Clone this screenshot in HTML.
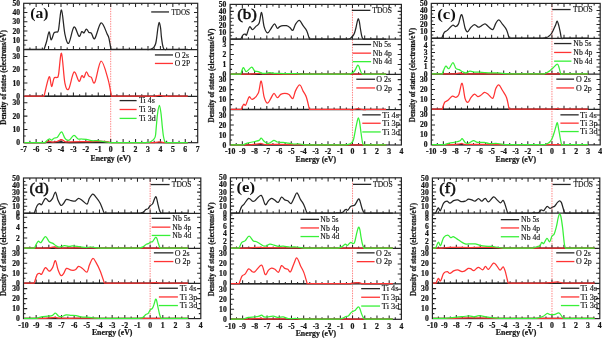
<!DOCTYPE html>
<html><head><meta charset="utf-8"><title>DOS</title><style>
html,body{margin:0;padding:0;background:#fff;width:602px;height:338px;overflow:hidden}
svg{display:block;will-change:transform}
.tl{font-family:"Liberation Serif",serif;font-weight:bold;fill:#151515;stroke:#151515;stroke-width:0.22px}
.lg{font-family:"Liberation Serif",serif;fill:#151515;stroke:#151515;stroke-width:0.15px}
.pn{font-family:"Liberation Serif",serif;fill:#111;stroke:#111;stroke-width:0.55px}
.pb{font-family:"Liberation Serif",serif;font-weight:bold;fill:#111}
</style></head><body>
<svg width="602" height="338" viewBox="0 0 602 338">
<rect width="602" height="338" fill="#fff"/>
<line x1="110.70" y1="3.30" x2="110.70" y2="142.70" stroke="#ff8080" stroke-width="1.0" stroke-dasharray="1.4,1.1"/>
<rect x="23.70" y="3.30" width="174.00" height="139.40" fill="none" stroke="#262626" stroke-width="1.20"/>
<line x1="23.70" y1="49.60" x2="197.70" y2="49.60" stroke="#262626" stroke-width="1.20"/>
<line x1="23.70" y1="96.30" x2="197.70" y2="96.30" stroke="#262626" stroke-width="1.20"/>
<path d="M29.91,3.30v2.00M29.91,49.60v-2.00M29.91,96.30v-2.00M29.91,142.70v-2.00M36.13,3.30v3.70M36.13,49.60v-3.70M36.13,96.30v-3.70M36.13,142.70v-3.70M42.34,3.30v2.00M42.34,49.60v-2.00M42.34,96.30v-2.00M42.34,142.70v-2.00M48.56,3.30v3.70M48.56,49.60v-3.70M48.56,96.30v-3.70M48.56,142.70v-3.70M54.77,3.30v2.00M54.77,49.60v-2.00M54.77,96.30v-2.00M54.77,142.70v-2.00M60.99,3.30v3.70M60.99,49.60v-3.70M60.99,96.30v-3.70M60.99,142.70v-3.70M67.20,3.30v2.00M67.20,49.60v-2.00M67.20,96.30v-2.00M67.20,142.70v-2.00M73.41,3.30v3.70M73.41,49.60v-3.70M73.41,96.30v-3.70M73.41,142.70v-3.70M79.63,3.30v2.00M79.63,49.60v-2.00M79.63,96.30v-2.00M79.63,142.70v-2.00M85.84,3.30v3.70M85.84,49.60v-3.70M85.84,96.30v-3.70M85.84,142.70v-3.70M92.06,3.30v2.00M92.06,49.60v-2.00M92.06,96.30v-2.00M92.06,142.70v-2.00M98.27,3.30v3.70M98.27,49.60v-3.70M98.27,96.30v-3.70M98.27,142.70v-3.70M104.49,3.30v2.00M104.49,49.60v-2.00M104.49,96.30v-2.00M104.49,142.70v-2.00M110.70,3.30v3.70M110.70,49.60v-3.70M110.70,96.30v-3.70M110.70,142.70v-3.70M116.91,3.30v2.00M116.91,49.60v-2.00M116.91,96.30v-2.00M116.91,142.70v-2.00M123.13,3.30v3.70M123.13,49.60v-3.70M123.13,96.30v-3.70M123.13,142.70v-3.70M129.34,3.30v2.00M129.34,49.60v-2.00M129.34,96.30v-2.00M129.34,142.70v-2.00M135.56,3.30v3.70M135.56,49.60v-3.70M135.56,96.30v-3.70M135.56,142.70v-3.70M141.77,3.30v2.00M141.77,49.60v-2.00M141.77,96.30v-2.00M141.77,142.70v-2.00M147.99,3.30v3.70M147.99,49.60v-3.70M147.99,96.30v-3.70M147.99,142.70v-3.70M154.20,3.30v2.00M154.20,49.60v-2.00M154.20,96.30v-2.00M154.20,142.70v-2.00M160.41,3.30v3.70M160.41,49.60v-3.70M160.41,96.30v-3.70M160.41,142.70v-3.70M166.63,3.30v2.00M166.63,49.60v-2.00M166.63,96.30v-2.00M166.63,142.70v-2.00M172.84,3.30v3.70M172.84,49.60v-3.70M172.84,96.30v-3.70M172.84,142.70v-3.70M179.06,3.30v2.00M179.06,49.60v-2.00M179.06,96.30v-2.00M179.06,142.70v-2.00M185.27,3.30v3.70M185.27,49.60v-3.70M185.27,96.30v-3.70M185.27,142.70v-3.70M191.49,3.30v2.00M191.49,49.60v-2.00M191.49,96.30v-2.00M191.49,142.70v-2.00M23.70,44.97h2.00M197.70,44.97h-2.00M23.70,40.34h3.70M197.70,40.34h-3.70M23.70,35.71h2.00M197.70,35.71h-2.00M23.70,31.08h3.70M197.70,31.08h-3.70M23.70,26.45h2.00M197.70,26.45h-2.00M23.70,21.82h3.70M197.70,21.82h-3.70M23.70,17.19h2.00M197.70,17.19h-2.00M23.70,12.56h3.70M197.70,12.56h-3.70M23.70,7.93h2.00M197.70,7.93h-2.00M23.70,89.65h2.00M197.70,89.65h-2.00M23.70,83.00h3.70M197.70,83.00h-3.70M23.70,76.35h2.00M197.70,76.35h-2.00M23.70,69.70h3.70M197.70,69.70h-3.70M23.70,63.05h2.00M197.70,63.05h-2.00M23.70,56.40h3.70M197.70,56.40h-3.70M23.70,136.05h2.00M197.70,136.05h-2.00M23.70,129.40h3.70M197.70,129.40h-3.70M23.70,122.75h2.00M197.70,122.75h-2.00M23.70,116.10h3.70M197.70,116.10h-3.70M23.70,109.45h2.00M197.70,109.45h-2.00M23.70,102.80h3.70M197.70,102.80h-3.70" stroke="#262626" stroke-width="1.05" fill="none"/>
<path d="M24.30,49.40L44.10,49.40C44.52,48.08 45.77,44.42 46.60,41.50C47.43,38.58 48.33,32.17 49.10,31.90C49.87,31.63 50.38,39.73 51.20,39.90C52.02,40.07 53.12,34.23 54.00,32.90C54.88,31.57 55.75,32.40 56.50,31.90C57.25,31.40 57.67,33.55 58.50,29.90C59.33,26.25 60.43,9.30 61.50,10.00C62.57,10.70 63.70,28.57 64.90,34.10C66.10,39.63 67.18,44.37 68.70,43.20C70.22,42.03 72.28,28.27 74.00,27.10C75.72,25.93 77.70,35.45 79.00,36.20C80.30,36.95 80.97,32.15 81.80,31.60C82.63,31.05 83.23,33.32 84.00,32.90C84.77,32.48 85.58,29.18 86.40,29.10C87.22,29.02 88.07,31.72 88.90,32.40C89.73,33.08 90.42,32.18 91.40,33.20C92.38,34.22 93.18,40.22 94.80,38.50C96.42,36.78 99.03,23.63 101.10,22.90C103.17,22.17 105.90,31.55 107.20,34.10C108.50,36.65 108.27,35.65 108.90,38.20C109.53,40.75 110.65,47.53 111.00,49.40L146.00,49.40C146.47,49.42 147.97,49.55 148.80,49.50C149.63,49.45 150.17,49.47 151.00,49.10C151.83,48.73 153.02,48.23 153.80,47.30C154.58,46.37 155.20,45.23 155.70,43.50C156.20,41.77 156.43,39.47 156.80,36.90C157.17,34.33 157.50,30.52 157.90,28.10C158.30,25.68 158.75,22.40 159.20,22.40C159.65,22.40 160.23,25.68 160.60,28.10C160.97,30.52 161.08,34.15 161.40,36.90C161.72,39.65 162.13,42.68 162.50,44.60C162.87,46.52 163.23,47.58 163.60,48.40C163.97,49.22 164.13,49.33 164.70,49.50C165.27,49.67 166.62,49.42 167.00,49.40L187.76,49.40" fill="none" stroke="#262626" stroke-width="1.25" stroke-linejoin="round"/>
<path d="M24.30,96.10L187.76,96.10" fill="none" stroke="#262626" stroke-width="1.25" stroke-linejoin="round"/>
<path d="M24.30,96.10L44.10,96.10C44.93,92.90 47.85,78.50 49.10,76.90C50.35,75.30 50.78,86.28 51.60,86.50C52.42,86.72 53.18,79.72 54.00,78.20C54.82,76.68 55.75,77.95 56.50,77.40C57.25,76.85 57.67,78.92 58.50,74.90C59.33,70.88 60.43,51.92 61.50,53.30C62.57,54.68 63.70,77.25 64.90,83.20C66.10,89.15 67.18,90.85 68.70,89.00C70.22,87.15 72.28,73.40 74.00,72.10C75.72,70.80 77.70,80.60 79.00,81.20C80.30,81.80 80.97,76.33 81.80,75.70C82.63,75.07 83.23,78.03 84.00,77.40C84.77,76.77 85.58,72.10 86.40,71.90C87.22,71.70 88.07,75.28 88.90,76.20C89.73,77.12 90.42,76.37 91.40,77.40C92.38,78.43 93.18,85.12 94.80,82.40C96.42,79.68 98.90,61.65 101.10,61.10C103.30,60.55 106.28,73.27 108.00,79.10C109.72,84.93 110.83,93.27 111.40,96.10L150.00,96.10C150.07,96.13 150.27,96.27 150.40,96.30C150.53,96.33 150.67,96.30 150.80,96.30C150.93,96.30 151.07,96.30 151.20,96.30C151.33,96.30 151.47,96.30 151.60,96.30C151.73,96.30 151.87,96.30 152.00,96.29C152.13,96.29 152.27,96.29 152.40,96.29C152.53,96.29 152.67,96.29 152.80,96.28C152.93,96.28 153.07,96.28 153.20,96.27C153.33,96.27 153.47,96.26 153.60,96.26C153.73,96.25 153.87,96.25 154.00,96.24C154.13,96.23 154.27,96.22 154.40,96.21C154.53,96.20 154.67,96.18 154.80,96.17C154.93,96.15 155.07,96.14 155.20,96.12C155.33,96.10 155.47,96.08 155.60,96.05C155.73,96.03 155.87,96.01 156.00,95.98C156.13,95.95 156.27,95.92 156.40,95.89C156.53,95.86 156.67,95.83 156.80,95.80C156.93,95.77 157.07,95.74 157.20,95.71C157.33,95.68 157.47,95.64 157.60,95.62C157.73,95.59 157.87,95.56 158.00,95.53C158.13,95.51 158.27,95.48 158.40,95.47C158.53,95.45 158.67,95.43 158.80,95.42C158.93,95.41 159.07,95.40 159.20,95.40C159.33,95.40 159.47,95.40 159.60,95.41C159.73,95.41 159.87,95.43 160.00,95.44C160.13,95.46 160.27,95.48 160.40,95.50C160.53,95.52 160.67,95.55 160.80,95.57C160.93,95.60 161.07,95.63 161.20,95.66C161.33,95.69 161.47,95.72 161.60,95.75C161.73,95.79 161.87,95.82 162.00,95.85C162.13,95.88 162.27,95.91 162.40,95.94C162.53,95.97 162.67,95.99 162.80,96.02C162.93,96.04 163.07,96.07 163.20,96.09C163.33,96.11 163.47,96.13 163.60,96.14C163.73,96.16 163.87,96.18 164.00,96.19C164.13,96.20 164.27,96.21 164.40,96.22C164.53,96.23 164.67,96.24 164.80,96.25C164.93,96.26 165.07,96.26 165.20,96.27C165.33,96.27 165.47,96.28 165.60,96.28C165.73,96.28 165.87,96.28 166.00,96.29C166.13,96.29 166.27,96.29 166.40,96.29C166.53,96.29 166.67,96.29 166.80,96.30C166.93,96.30 167.07,96.30 167.20,96.30C167.33,96.30 167.47,96.33 167.60,96.30C167.73,96.27 167.93,96.13 168.00,96.10L187.76,96.10" fill="none" stroke="#ff3434" stroke-width="1.25" stroke-linejoin="round"/>
<path d="M24.30,142.50L46.00,142.50C46.50,142.38 48.00,141.82 49.00,141.80C50.00,141.78 49.92,142.43 52.00,142.40C54.08,142.37 59.17,141.58 61.50,141.60C63.83,141.62 59.58,142.38 66.00,142.50C72.42,142.62 92.67,142.30 100.00,142.30C107.33,142.30 108.33,142.47 110.00,142.50L187.76,142.50" fill="none" stroke="#262626" stroke-width="1.25" stroke-linejoin="round"/>
<path d="M24.30,142.50L45.00,142.50C45.68,142.28 47.93,141.28 49.10,141.20C50.27,141.12 50.68,141.95 52.00,142.00C53.32,142.05 55.42,141.90 57.00,141.50C58.58,141.10 60.18,139.58 61.50,139.60C62.82,139.62 63.48,141.23 64.90,141.60C66.32,141.97 65.82,141.80 70.00,141.80C74.18,141.80 84.33,141.67 90.00,141.60C95.67,141.53 100.50,141.25 104.00,141.40C107.50,141.55 109.83,142.32 111.00,142.50L150.00,142.50C150.07,142.53 150.27,142.67 150.40,142.70C150.53,142.73 150.67,142.70 150.80,142.70C150.93,142.70 151.07,142.70 151.20,142.70C151.33,142.70 151.47,142.69 151.60,142.69C151.73,142.69 151.87,142.69 152.00,142.69C152.13,142.69 152.27,142.68 152.40,142.68C152.53,142.68 152.67,142.68 152.80,142.67C152.93,142.67 153.07,142.66 153.20,142.66C153.33,142.65 153.47,142.65 153.60,142.64C153.73,142.63 153.87,142.63 154.00,142.62C154.13,142.61 154.27,142.60 154.40,142.58C154.53,142.57 154.67,142.56 154.80,142.54C154.93,142.53 155.07,142.51 155.20,142.49C155.33,142.47 155.47,142.45 155.60,142.43C155.73,142.41 155.87,142.39 156.00,142.37C156.13,142.34 156.27,142.32 156.40,142.29C156.53,142.27 156.67,142.24 156.80,142.21C156.93,142.19 157.07,142.16 157.20,142.14C157.33,142.11 157.47,142.09 157.60,142.07C157.73,142.04 157.87,142.02 158.00,142.00C158.13,141.98 158.27,141.96 158.40,141.95C158.53,141.94 158.67,141.92 158.80,141.92C158.93,141.91 159.07,141.90 159.20,141.90C159.33,141.90 159.47,141.90 159.60,141.91C159.73,141.91 159.87,141.92 160.00,141.93C160.13,141.94 160.27,141.96 160.40,141.97C160.53,141.99 160.67,142.01 160.80,142.03C160.93,142.05 161.07,142.08 161.20,142.10C161.33,142.12 161.47,142.15 161.60,142.18C161.73,142.20 161.87,142.23 162.00,142.25C162.13,142.28 162.27,142.30 162.40,142.33C162.53,142.35 162.67,142.38 162.80,142.40C162.93,142.42 163.07,142.44 163.20,142.46C163.33,142.48 163.47,142.50 163.60,142.52C163.73,142.53 163.87,142.55 164.00,142.56C164.13,142.58 164.27,142.59 164.40,142.60C164.53,142.61 164.67,142.62 164.80,142.63C164.93,142.64 165.07,142.64 165.20,142.65C165.33,142.66 165.47,142.66 165.60,142.67C165.73,142.67 165.87,142.67 166.00,142.68C166.13,142.68 166.27,142.68 166.40,142.69C166.53,142.69 166.67,142.69 166.80,142.69C166.93,142.69 167.07,142.69 167.20,142.69C167.33,142.70 167.47,142.73 167.60,142.70C167.73,142.66 167.93,142.53 168.00,142.50L187.76,142.50" fill="none" stroke="#ff3434" stroke-width="1.25" stroke-linejoin="round"/>
<path d="M24.30,142.50L44.90,142.50C45.60,141.92 47.98,139.38 49.10,139.00C50.22,138.62 50.78,140.33 51.60,140.20C52.42,140.07 53.03,138.68 54.00,138.20C54.97,137.72 56.15,138.35 57.40,137.30C58.65,136.25 60.25,131.75 61.50,131.90C62.75,132.05 63.93,136.82 64.90,138.20C65.87,139.58 66.48,139.93 67.30,140.20C68.12,140.47 68.68,140.62 69.80,139.80C70.92,138.98 72.62,135.43 74.00,135.30C75.38,135.17 76.85,138.38 78.10,139.00C79.35,139.62 80.12,138.95 81.50,139.00C82.88,139.05 84.75,139.02 86.40,139.30C88.05,139.58 89.47,140.47 91.40,140.70C93.33,140.93 96.07,140.57 98.00,140.70C99.93,140.83 101.05,141.20 103.00,141.50C104.95,141.80 108.58,142.33 109.70,142.50L146.00,142.50C146.50,142.47 148.17,142.47 149.00,142.30C149.83,142.13 150.22,142.00 151.00,141.50C151.78,141.00 152.97,140.22 153.70,139.30C154.43,138.38 154.97,138.12 155.40,136.00C155.83,133.88 155.93,130.38 156.30,126.60C156.67,122.82 157.08,116.85 157.60,113.30C158.12,109.75 158.83,105.30 159.40,105.30C159.97,105.30 160.52,109.75 161.00,113.30C161.48,116.85 161.90,122.82 162.30,126.60C162.70,130.38 163.00,133.55 163.40,136.00C163.80,138.45 164.33,140.23 164.70,141.30C165.07,142.37 165.22,142.20 165.60,142.40C165.98,142.60 166.77,142.48 167.00,142.50L187.76,142.50" fill="none" stroke="#38f038" stroke-width="1.25" stroke-linejoin="round"/>
<text class="tl" font-size="7.60" text-anchor="end" transform="translate(20.00,52.15) scale(1.000,1.050)">0</text>
<text class="tl" font-size="7.60" text-anchor="end" transform="translate(20.00,42.89) scale(1.000,1.050)">10</text>
<text class="tl" font-size="7.60" text-anchor="end" transform="translate(20.00,33.63) scale(1.000,1.050)">20</text>
<text class="tl" font-size="7.60" text-anchor="end" transform="translate(20.00,24.37) scale(1.000,1.050)">30</text>
<text class="tl" font-size="7.60" text-anchor="end" transform="translate(20.00,15.11) scale(1.000,1.050)">40</text>
<text class="tl" font-size="7.60" text-anchor="end" transform="translate(20.00,5.85) scale(1.000,1.050)">50</text>
<text class="tl" font-size="7.60" text-anchor="end" transform="translate(20.00,98.85) scale(1.000,1.050)">0</text>
<text class="tl" font-size="7.60" text-anchor="end" transform="translate(20.00,85.55) scale(1.000,1.050)">10</text>
<text class="tl" font-size="7.60" text-anchor="end" transform="translate(20.00,72.25) scale(1.000,1.050)">20</text>
<text class="tl" font-size="7.60" text-anchor="end" transform="translate(20.00,58.95) scale(1.000,1.050)">30</text>
<text class="tl" font-size="7.60" text-anchor="end" transform="translate(20.00,145.25) scale(1.000,1.050)">0</text>
<text class="tl" font-size="7.60" text-anchor="end" transform="translate(20.00,131.95) scale(1.000,1.050)">10</text>
<text class="tl" font-size="7.60" text-anchor="end" transform="translate(20.00,118.65) scale(1.000,1.050)">20</text>
<text class="tl" font-size="7.60" text-anchor="end" transform="translate(20.00,105.35) scale(1.000,1.050)">30</text>
<text class="tl" font-size="7.80" text-anchor="middle" transform="translate(23.70,152.02) scale(1.000,0.930)">-7</text>
<text class="tl" font-size="7.80" text-anchor="middle" transform="translate(36.13,152.02) scale(1.000,0.930)">-6</text>
<text class="tl" font-size="7.80" text-anchor="middle" transform="translate(48.56,152.02) scale(1.000,0.930)">-5</text>
<text class="tl" font-size="7.80" text-anchor="middle" transform="translate(60.99,152.02) scale(1.000,0.930)">-4</text>
<text class="tl" font-size="7.80" text-anchor="middle" transform="translate(73.41,152.02) scale(1.000,0.930)">-3</text>
<text class="tl" font-size="7.80" text-anchor="middle" transform="translate(85.84,152.02) scale(1.000,0.930)">-2</text>
<text class="tl" font-size="7.80" text-anchor="middle" transform="translate(98.27,152.02) scale(1.000,0.930)">-1</text>
<text class="tl" font-size="7.80" text-anchor="middle" transform="translate(110.70,152.02) scale(1.000,0.930)">0</text>
<text class="tl" font-size="7.80" text-anchor="middle" transform="translate(123.13,152.02) scale(1.000,0.930)">1</text>
<text class="tl" font-size="7.80" text-anchor="middle" transform="translate(135.56,152.02) scale(1.000,0.930)">2</text>
<text class="tl" font-size="7.80" text-anchor="middle" transform="translate(147.99,152.02) scale(1.000,0.930)">3</text>
<text class="tl" font-size="7.80" text-anchor="middle" transform="translate(160.41,152.02) scale(1.000,0.930)">4</text>
<text class="tl" font-size="7.80" text-anchor="middle" transform="translate(172.84,152.02) scale(1.000,0.930)">5</text>
<text class="tl" font-size="7.80" text-anchor="middle" transform="translate(185.27,152.02) scale(1.000,0.930)">6</text>
<text class="tl" font-size="7.80" text-anchor="middle" transform="translate(197.70,152.02) scale(1.000,0.930)">7</text>
<text x="110.70" y="161.30" class="tl" font-size="7.80" text-anchor="middle">Energy (eV)</text>
<text class="tl" font-size="7.25" text-anchor="middle" transform="translate(6.20,77.40) rotate(-90) scale(1,1.180)">Density of states (electrons/eV)</text>
<text class="pb" font-size="15.20" transform="translate(30.27,18.40) scale(1.030,1.000)">(a)</text>
<line x1="151.20" y1="11.95" x2="169.00" y2="11.95" stroke="#262626" stroke-width="1.3"/>
<text class="lg" font-size="7.50" transform="translate(171.50,14.75) scale(0.950,1.000)">TDOS</text>
<line x1="154.90" y1="54.95" x2="173.00" y2="54.95" stroke="#262626" stroke-width="1.3"/>
<text class="lg" font-size="7.50" transform="translate(174.70,57.75) scale(1.016,1.000)">O 2s</text>
<line x1="154.90" y1="63.45" x2="173.00" y2="63.45" stroke="#ff3434" stroke-width="1.3"/>
<text class="lg" font-size="7.50" transform="translate(174.70,66.25) scale(1.016,1.000)">O 2P</text>
<line x1="119.60" y1="100.60" x2="136.60" y2="100.60" stroke="#262626" stroke-width="1.3"/>
<text class="lg" font-size="7.50" transform="translate(139.00,103.40) scale(1.064,1.000)">Ti 4s</text>
<line x1="119.60" y1="109.50" x2="136.60" y2="109.50" stroke="#ff3434" stroke-width="1.3"/>
<text class="lg" font-size="7.50" transform="translate(139.00,112.30) scale(1.064,1.000)">Ti 3p</text>
<line x1="119.60" y1="118.40" x2="136.60" y2="118.40" stroke="#38f038" stroke-width="1.3"/>
<text class="lg" font-size="7.50" transform="translate(139.00,121.20) scale(1.064,1.000)">Ti 3d</text>
<line x1="352.46" y1="4.40" x2="352.46" y2="145.00" stroke="#ff8080" stroke-width="1.0" stroke-dasharray="1.4,1.1"/>
<rect x="230.10" y="4.40" width="171.30" height="140.60" fill="none" stroke="#262626" stroke-width="1.20"/>
<line x1="230.10" y1="39.20" x2="401.40" y2="39.20" stroke="#262626" stroke-width="1.20"/>
<line x1="230.10" y1="74.30" x2="401.40" y2="74.30" stroke="#262626" stroke-width="1.20"/>
<line x1="230.10" y1="109.60" x2="401.40" y2="109.60" stroke="#262626" stroke-width="1.20"/>
<path d="M236.22,4.40v2.00M236.22,39.20v-2.00M236.22,74.30v-2.00M236.22,109.60v-2.00M236.22,145.00v-2.00M242.34,4.40v3.70M242.34,39.20v-3.70M242.34,74.30v-3.70M242.34,109.60v-3.70M242.34,145.00v-3.70M248.45,4.40v2.00M248.45,39.20v-2.00M248.45,74.30v-2.00M248.45,109.60v-2.00M248.45,145.00v-2.00M254.57,4.40v3.70M254.57,39.20v-3.70M254.57,74.30v-3.70M254.57,109.60v-3.70M254.57,145.00v-3.70M260.69,4.40v2.00M260.69,39.20v-2.00M260.69,74.30v-2.00M260.69,109.60v-2.00M260.69,145.00v-2.00M266.81,4.40v3.70M266.81,39.20v-3.70M266.81,74.30v-3.70M266.81,109.60v-3.70M266.81,145.00v-3.70M272.93,4.40v2.00M272.93,39.20v-2.00M272.93,74.30v-2.00M272.93,109.60v-2.00M272.93,145.00v-2.00M279.04,4.40v3.70M279.04,39.20v-3.70M279.04,74.30v-3.70M279.04,109.60v-3.70M279.04,145.00v-3.70M285.16,4.40v2.00M285.16,39.20v-2.00M285.16,74.30v-2.00M285.16,109.60v-2.00M285.16,145.00v-2.00M291.28,4.40v3.70M291.28,39.20v-3.70M291.28,74.30v-3.70M291.28,109.60v-3.70M291.28,145.00v-3.70M297.40,4.40v2.00M297.40,39.20v-2.00M297.40,74.30v-2.00M297.40,109.60v-2.00M297.40,145.00v-2.00M303.51,4.40v3.70M303.51,39.20v-3.70M303.51,74.30v-3.70M303.51,109.60v-3.70M303.51,145.00v-3.70M309.63,4.40v2.00M309.63,39.20v-2.00M309.63,74.30v-2.00M309.63,109.60v-2.00M309.63,145.00v-2.00M315.75,4.40v3.70M315.75,39.20v-3.70M315.75,74.30v-3.70M315.75,109.60v-3.70M315.75,145.00v-3.70M321.87,4.40v2.00M321.87,39.20v-2.00M321.87,74.30v-2.00M321.87,109.60v-2.00M321.87,145.00v-2.00M327.99,4.40v3.70M327.99,39.20v-3.70M327.99,74.30v-3.70M327.99,109.60v-3.70M327.99,145.00v-3.70M334.10,4.40v2.00M334.10,39.20v-2.00M334.10,74.30v-2.00M334.10,109.60v-2.00M334.10,145.00v-2.00M340.22,4.40v3.70M340.22,39.20v-3.70M340.22,74.30v-3.70M340.22,109.60v-3.70M340.22,145.00v-3.70M346.34,4.40v2.00M346.34,39.20v-2.00M346.34,74.30v-2.00M346.34,109.60v-2.00M346.34,145.00v-2.00M352.46,4.40v3.70M352.46,39.20v-3.70M352.46,74.30v-3.70M352.46,109.60v-3.70M352.46,145.00v-3.70M358.57,4.40v2.00M358.57,39.20v-2.00M358.57,74.30v-2.00M358.57,109.60v-2.00M358.57,145.00v-2.00M364.69,4.40v3.70M364.69,39.20v-3.70M364.69,74.30v-3.70M364.69,109.60v-3.70M364.69,145.00v-3.70M370.81,4.40v2.00M370.81,39.20v-2.00M370.81,74.30v-2.00M370.81,109.60v-2.00M370.81,145.00v-2.00M376.93,4.40v3.70M376.93,39.20v-3.70M376.93,74.30v-3.70M376.93,109.60v-3.70M376.93,145.00v-3.70M383.05,4.40v2.00M383.05,39.20v-2.00M383.05,74.30v-2.00M383.05,109.60v-2.00M383.05,145.00v-2.00M389.16,4.40v3.70M389.16,39.20v-3.70M389.16,74.30v-3.70M389.16,109.60v-3.70M389.16,145.00v-3.70M395.28,4.40v2.00M395.28,39.20v-2.00M395.28,74.30v-2.00M395.28,109.60v-2.00M395.28,145.00v-2.00M230.10,35.72h2.00M401.40,35.72h-2.00M230.10,32.24h3.70M401.40,32.24h-3.70M230.10,28.76h2.00M401.40,28.76h-2.00M230.10,25.28h3.70M401.40,25.28h-3.70M230.10,21.80h2.00M401.40,21.80h-2.00M230.10,18.32h3.70M401.40,18.32h-3.70M230.10,14.84h2.00M401.40,14.84h-2.00M230.10,11.36h3.70M401.40,11.36h-3.70M230.10,7.88h2.00M401.40,7.88h-2.00M230.10,69.35h2.00M401.40,69.35h-2.00M230.10,64.40h3.70M401.40,64.40h-3.70M230.10,59.45h2.00M401.40,59.45h-2.00M230.10,54.50h3.70M401.40,54.50h-3.70M230.10,49.55h2.00M401.40,49.55h-2.00M230.10,44.60h3.70M401.40,44.60h-3.70M230.10,104.60h2.00M401.40,104.60h-2.00M230.10,99.60h3.70M401.40,99.60h-3.70M230.10,94.60h2.00M401.40,94.60h-2.00M230.10,89.60h3.70M401.40,89.60h-3.70M230.10,84.60h2.00M401.40,84.60h-2.00M230.10,79.60h3.70M401.40,79.60h-3.70M230.10,140.00h2.00M401.40,140.00h-2.00M230.10,135.00h3.70M401.40,135.00h-3.70M230.10,130.00h2.00M401.40,130.00h-2.00M230.10,125.00h3.70M401.40,125.00h-3.70M230.10,120.00h2.00M401.40,120.00h-2.00M230.10,115.00h3.70M401.40,115.00h-3.70" stroke="#262626" stroke-width="1.05" fill="none"/>
<path d="M230.70,39.00L240.80,39.00C241.22,38.27 242.55,35.42 243.30,34.60C244.05,33.78 244.75,34.05 245.30,34.10C245.85,34.15 245.88,36.10 246.60,34.90C247.32,33.70 248.63,27.78 249.60,26.90C250.57,26.02 251.38,29.65 252.40,29.60C253.42,29.55 254.58,27.65 255.70,26.60C256.82,25.55 258.12,25.65 259.10,23.30C260.08,20.95 260.77,11.95 261.60,12.50C262.43,13.05 263.13,23.20 264.10,26.60C265.07,30.00 266.30,32.48 267.40,32.90C268.50,33.32 269.52,30.62 270.70,29.10C271.88,27.58 273.40,23.95 274.50,23.80C275.60,23.65 276.42,27.73 277.30,28.20C278.18,28.67 278.82,27.02 279.80,26.60C280.78,26.18 282.08,25.85 283.20,25.70C284.32,25.55 285.40,25.42 286.50,25.70C287.60,25.98 288.75,26.62 289.80,27.40C290.85,28.18 291.83,30.95 292.80,30.40C293.77,29.85 294.50,25.77 295.60,24.10C296.70,22.43 298.15,20.13 299.40,20.40C300.65,20.67 301.88,23.98 303.10,25.70C304.32,27.42 305.65,28.48 306.70,30.70C307.75,32.92 308.95,37.62 309.40,39.00L345.00,39.00C345.55,39.00 347.38,39.14 348.30,39.00C349.22,38.86 349.75,38.68 350.50,38.18C351.25,37.68 352.13,36.88 352.80,36.00C353.47,35.12 353.98,34.24 354.50,32.91C355.02,31.58 355.45,29.86 355.90,28.01C356.35,26.16 356.80,23.35 357.20,21.80C357.60,20.25 357.93,18.70 358.30,18.70C358.67,18.70 359.07,20.25 359.40,21.80C359.73,23.35 360.00,26.09 360.30,28.01C360.60,29.93 360.90,31.75 361.20,33.30C361.50,34.85 361.77,36.34 362.10,37.29C362.43,38.24 362.72,38.72 363.20,39.00C363.68,39.28 364.70,39.00 365.00,39.00L386.11,39.00" fill="none" stroke="#262626" stroke-width="1.25" stroke-linejoin="round"/>
<path d="M230.70,74.10L245.00,74.10C246.67,74.05 252.17,73.82 255.00,73.80C257.83,73.78 254.50,73.98 262.00,74.00C269.50,74.02 292.83,73.88 300.00,73.90C307.17,73.92 304.17,74.07 305.00,74.10L386.11,74.10" fill="none" stroke="#262626" stroke-width="1.25" stroke-linejoin="round"/>
<path d="M230.70,74.10L250.00,74.10C251.33,74.00 256.00,73.58 258.00,73.50C260.00,73.42 260.67,73.52 262.00,73.60C263.33,73.68 259.67,73.93 266.00,74.00C272.33,74.07 293.50,73.98 300.00,74.00C306.50,74.02 304.17,74.08 305.00,74.10L386.11,74.10" fill="none" stroke="#ff3434" stroke-width="1.25" stroke-linejoin="round"/>
<path d="M230.70,74.10L240.80,74.10C241.22,73.02 242.38,68.00 243.30,67.60C244.22,67.20 244.92,71.78 246.30,71.70C247.68,71.62 250.22,67.23 251.60,67.10C252.98,66.97 253.50,70.13 254.60,70.90C255.70,71.67 256.90,71.28 258.20,71.70C259.50,72.12 261.02,73.15 262.40,73.40C263.78,73.65 265.25,73.33 266.50,73.20C267.75,73.07 268.78,72.57 269.90,72.60C271.02,72.63 271.55,73.27 273.20,73.40C274.85,73.53 277.32,73.35 279.80,73.40C282.28,73.45 285.33,73.65 288.10,73.70C290.87,73.75 293.90,73.63 296.40,73.70C298.90,73.77 301.98,74.03 303.10,74.10L344.60,74.10C345.15,74.12 346.98,74.25 347.90,74.21C348.82,74.17 349.35,74.06 350.10,73.84C350.85,73.62 351.73,73.27 352.40,72.88C353.07,72.49 353.58,72.10 354.10,71.51C354.62,70.92 355.05,70.15 355.50,69.33C355.95,68.51 356.40,67.26 356.80,66.57C357.20,65.88 357.53,65.20 357.90,65.20C358.27,65.20 358.67,65.88 359.00,66.57C359.33,67.26 359.60,68.48 359.90,69.33C360.20,70.18 360.50,70.99 360.80,71.68C361.10,72.37 361.37,73.03 361.70,73.45C362.03,73.87 362.32,74.10 362.80,74.21C363.28,74.32 364.30,74.12 364.60,74.10L386.11,74.10" fill="none" stroke="#38f038" stroke-width="1.25" stroke-linejoin="round"/>
<path d="M230.70,109.40L386.11,109.40" fill="none" stroke="#262626" stroke-width="1.25" stroke-linejoin="round"/>
<path d="M230.70,109.40L241.30,109.40C241.68,108.57 242.85,105.15 243.60,104.40C244.35,103.65 244.88,106.15 245.80,104.90C246.72,103.65 248.00,97.82 249.10,96.90C250.20,95.98 250.88,100.00 252.40,99.40C253.92,98.80 256.73,96.35 258.20,93.30C259.67,90.25 260.22,80.50 261.20,81.10C262.18,81.70 263.07,93.22 264.10,96.90C265.13,100.58 266.30,102.92 267.40,103.20C268.50,103.48 269.60,100.25 270.70,98.60C271.80,96.95 272.90,93.45 274.00,93.30C275.10,93.15 276.18,97.52 277.30,97.70C278.42,97.88 279.45,95.13 280.70,94.40C281.95,93.67 283.42,93.30 284.80,93.30C286.18,93.30 287.67,93.52 289.00,94.40C290.33,95.28 291.70,99.23 292.80,98.60C293.90,97.97 294.43,92.87 295.60,90.60C296.77,88.33 298.55,84.92 299.80,85.00C301.05,85.08 302.00,89.07 303.10,91.10C304.20,93.13 305.35,94.15 306.40,97.20C307.45,100.25 308.90,107.37 309.40,109.40L350.00,109.40C350.07,109.43 350.27,109.57 350.40,109.60C350.53,109.63 350.67,109.60 350.80,109.60C350.93,109.59 351.07,109.59 351.20,109.59C351.33,109.59 351.47,109.59 351.60,109.59C351.73,109.58 351.87,109.58 352.00,109.58C352.13,109.57 352.27,109.57 352.40,109.56C352.53,109.56 352.67,109.55 352.80,109.54C352.93,109.54 353.07,109.53 353.20,109.52C353.33,109.51 353.47,109.49 353.60,109.48C353.73,109.46 353.87,109.45 354.00,109.43C354.13,109.41 354.27,109.39 354.40,109.36C354.53,109.34 354.67,109.31 354.80,109.29C354.93,109.26 355.07,109.23 355.20,109.20C355.33,109.17 355.47,109.14 355.60,109.10C355.73,109.07 355.87,109.04 356.00,109.00C356.13,108.97 356.27,108.94 356.40,108.91C356.53,108.88 356.67,108.85 356.80,108.82C356.93,108.80 357.07,108.78 357.20,108.76C357.33,108.74 357.47,108.72 357.60,108.71C357.73,108.71 357.87,108.70 358.00,108.70C358.13,108.70 358.27,108.71 358.40,108.71C358.53,108.72 358.67,108.74 358.80,108.76C358.93,108.78 359.07,108.80 359.20,108.82C359.33,108.85 359.47,108.88 359.60,108.91C359.73,108.94 359.87,108.97 360.00,109.00C360.13,109.04 360.27,109.07 360.40,109.10C360.53,109.14 360.67,109.17 360.80,109.20C360.93,109.23 361.07,109.26 361.20,109.29C361.33,109.31 361.47,109.34 361.60,109.36C361.73,109.39 361.87,109.41 362.00,109.43C362.13,109.45 362.27,109.46 362.40,109.48C362.53,109.49 362.67,109.51 362.80,109.52C362.93,109.53 363.07,109.54 363.20,109.54C363.33,109.55 363.47,109.56 363.60,109.56C363.73,109.57 363.87,109.57 364.00,109.58C364.13,109.58 364.27,109.58 364.40,109.59C364.53,109.59 364.67,109.59 364.80,109.59C364.93,109.59 365.07,109.59 365.20,109.60C365.33,109.60 365.47,109.63 365.60,109.60C365.73,109.57 365.93,109.43 366.00,109.40L386.11,109.40" fill="none" stroke="#ff3434" stroke-width="1.25" stroke-linejoin="round"/>
<path d="M230.70,144.80L386.11,144.80" fill="none" stroke="#262626" stroke-width="1.25" stroke-linejoin="round"/>
<path d="M230.70,144.80L250.00,144.80C251.00,144.70 254.13,144.42 256.00,144.20C257.87,143.98 259.70,143.45 261.20,143.50C262.70,143.55 261.87,144.37 265.00,144.50C268.13,144.63 274.17,144.28 280.00,144.30C285.83,144.32 295.83,144.52 300.00,144.60C304.17,144.68 304.17,144.77 305.00,144.80L386.11,144.80" fill="none" stroke="#ff3434" stroke-width="1.25" stroke-linejoin="round"/>
<path d="M230.70,144.80L243.30,144.80C244.13,144.48 246.37,143.45 248.30,142.90C250.23,142.35 253.10,141.92 254.90,141.50C256.70,141.08 258.05,140.95 259.10,140.40C260.15,139.85 260.37,138.07 261.20,138.20C262.03,138.33 263.07,140.32 264.10,141.20C265.13,142.08 266.30,143.30 267.40,143.50C268.50,143.70 269.60,142.92 270.70,142.40C271.80,141.88 272.90,140.47 274.00,140.40C275.10,140.33 275.77,141.67 277.30,142.00C278.83,142.33 281.40,142.20 283.20,142.40C285.00,142.60 286.45,142.93 288.10,143.20C289.75,143.47 291.15,143.87 293.10,144.00C295.05,144.13 297.85,143.87 299.80,144.00C301.75,144.13 303.97,144.67 304.80,144.80L343.00,144.80C343.75,144.78 346.17,144.97 347.50,144.70C348.83,144.43 350.03,143.93 351.00,143.20C351.97,142.47 352.53,142.70 353.30,140.30C354.07,137.90 354.97,131.88 355.60,128.80C356.23,125.72 356.65,123.63 357.10,121.80C357.55,119.97 357.88,117.80 358.30,117.80C358.72,117.80 359.18,119.58 359.60,121.80C360.02,124.02 360.32,127.63 360.80,131.10C361.28,134.57 362.02,140.30 362.50,142.60C362.98,144.90 363.28,144.53 363.70,144.90C364.12,145.27 364.78,144.82 365.00,144.80L386.11,144.80" fill="none" stroke="#38f038" stroke-width="1.25" stroke-linejoin="round"/>
<text class="tl" font-size="7.60" text-anchor="end" transform="translate(226.40,41.75) scale(1.000,1.050)">0</text>
<text class="tl" font-size="7.60" text-anchor="end" transform="translate(226.40,34.79) scale(1.000,1.050)">10</text>
<text class="tl" font-size="7.60" text-anchor="end" transform="translate(226.40,27.83) scale(1.000,1.050)">20</text>
<text class="tl" font-size="7.60" text-anchor="end" transform="translate(226.40,20.87) scale(1.000,1.050)">30</text>
<text class="tl" font-size="7.60" text-anchor="end" transform="translate(226.40,13.91) scale(1.000,1.050)">40</text>
<text class="tl" font-size="7.60" text-anchor="end" transform="translate(226.40,6.95) scale(1.000,1.050)">50</text>
<text class="tl" font-size="7.60" text-anchor="end" transform="translate(226.40,76.85) scale(1.000,1.050)">0</text>
<text class="tl" font-size="7.60" text-anchor="end" transform="translate(226.40,66.95) scale(1.000,1.050)">1</text>
<text class="tl" font-size="7.60" text-anchor="end" transform="translate(226.40,57.05) scale(1.000,1.050)">2</text>
<text class="tl" font-size="7.60" text-anchor="end" transform="translate(226.40,47.15) scale(1.000,1.050)">3</text>
<text class="tl" font-size="7.60" text-anchor="end" transform="translate(226.40,112.15) scale(1.000,1.050)">0</text>
<text class="tl" font-size="7.60" text-anchor="end" transform="translate(226.40,102.15) scale(1.000,1.050)">10</text>
<text class="tl" font-size="7.60" text-anchor="end" transform="translate(226.40,92.15) scale(1.000,1.050)">20</text>
<text class="tl" font-size="7.60" text-anchor="end" transform="translate(226.40,82.15) scale(1.000,1.050)">30</text>
<text class="tl" font-size="7.60" text-anchor="end" transform="translate(226.40,147.55) scale(1.000,1.050)">0</text>
<text class="tl" font-size="7.60" text-anchor="end" transform="translate(226.40,137.55) scale(1.000,1.050)">10</text>
<text class="tl" font-size="7.60" text-anchor="end" transform="translate(226.40,127.55) scale(1.000,1.050)">20</text>
<text class="tl" font-size="7.60" text-anchor="end" transform="translate(226.40,117.55) scale(1.000,1.050)">30</text>
<text class="tl" font-size="7.80" text-anchor="middle" transform="translate(230.10,154.32) scale(1.000,0.930)">-10</text>
<text class="tl" font-size="7.80" text-anchor="middle" transform="translate(242.34,154.32) scale(1.000,0.930)">-9</text>
<text class="tl" font-size="7.80" text-anchor="middle" transform="translate(254.57,154.32) scale(1.000,0.930)">-8</text>
<text class="tl" font-size="7.80" text-anchor="middle" transform="translate(266.81,154.32) scale(1.000,0.930)">-7</text>
<text class="tl" font-size="7.80" text-anchor="middle" transform="translate(279.04,154.32) scale(1.000,0.930)">-6</text>
<text class="tl" font-size="7.80" text-anchor="middle" transform="translate(291.28,154.32) scale(1.000,0.930)">-5</text>
<text class="tl" font-size="7.80" text-anchor="middle" transform="translate(303.51,154.32) scale(1.000,0.930)">-4</text>
<text class="tl" font-size="7.80" text-anchor="middle" transform="translate(315.75,154.32) scale(1.000,0.930)">-3</text>
<text class="tl" font-size="7.80" text-anchor="middle" transform="translate(327.99,154.32) scale(1.000,0.930)">-2</text>
<text class="tl" font-size="7.80" text-anchor="middle" transform="translate(340.22,154.32) scale(1.000,0.930)">-1</text>
<text class="tl" font-size="7.80" text-anchor="middle" transform="translate(352.46,154.32) scale(1.000,0.930)">0</text>
<text class="tl" font-size="7.80" text-anchor="middle" transform="translate(364.69,154.32) scale(1.000,0.930)">1</text>
<text class="tl" font-size="7.80" text-anchor="middle" transform="translate(376.93,154.32) scale(1.000,0.930)">2</text>
<text class="tl" font-size="7.80" text-anchor="middle" transform="translate(389.16,154.32) scale(1.000,0.930)">3</text>
<text class="tl" font-size="7.80" text-anchor="middle" transform="translate(401.40,154.32) scale(1.000,0.930)">4</text>
<text x="315.75" y="161.80" class="tl" font-size="7.80" text-anchor="middle">Energy (eV)</text>
<text class="tl" font-size="7.15" text-anchor="middle" transform="translate(214.20,75.55) rotate(-90) scale(1,1.180)">Density of states (electrons/eV)</text>
<text class="pn" font-size="15.20" transform="translate(237.23,18.70) scale(1.110,1.000)">(b)</text>
<line x1="351.80" y1="10.35" x2="370.40" y2="10.35" stroke="#262626" stroke-width="1.3"/>
<text x="372.30" y="13.15" class="lg" font-size="7.50">TDOS</text>
<line x1="352.60" y1="44.55" x2="371.10" y2="44.55" stroke="#262626" stroke-width="1.3"/>
<text class="lg" font-size="7.50" transform="translate(372.80,47.35) scale(1.030,1.000)">Nb 5s</text>
<line x1="352.60" y1="53.15" x2="371.10" y2="53.15" stroke="#ff3434" stroke-width="1.3"/>
<text class="lg" font-size="7.50" transform="translate(372.80,55.95) scale(1.030,1.000)">Nb 4p</text>
<line x1="352.60" y1="61.65" x2="371.10" y2="61.65" stroke="#38f038" stroke-width="1.3"/>
<text class="lg" font-size="7.50" transform="translate(372.80,64.45) scale(1.030,1.000)">Nb 4d</text>
<line x1="356.30" y1="79.25" x2="375.10" y2="79.25" stroke="#262626" stroke-width="1.3"/>
<text class="lg" font-size="7.50" transform="translate(376.30,82.05) scale(1.070,1.000)">O 2s</text>
<line x1="356.30" y1="87.95" x2="375.10" y2="87.95" stroke="#ff3434" stroke-width="1.3"/>
<text class="lg" font-size="7.50" transform="translate(376.30,90.75) scale(1.070,1.000)">O 2p</text>
<line x1="362.30" y1="114.85" x2="380.70" y2="114.85" stroke="#262626" stroke-width="1.3"/>
<text class="lg" font-size="7.50" transform="translate(382.30,117.65) scale(1.120,1.000)">Ti 4s</text>
<line x1="362.30" y1="123.25" x2="380.70" y2="123.25" stroke="#ff3434" stroke-width="1.3"/>
<text class="lg" font-size="7.50" transform="translate(382.30,126.05) scale(1.120,1.000)">Ti 3p</text>
<line x1="362.30" y1="131.95" x2="380.70" y2="131.95" stroke="#38f038" stroke-width="1.3"/>
<text class="lg" font-size="7.50" transform="translate(382.30,134.75) scale(1.120,1.000)">Ti 3d</text>
<line x1="551.94" y1="3.40" x2="551.94" y2="144.90" stroke="#ff8080" stroke-width="1.0" stroke-dasharray="1.4,1.1"/>
<rect x="431.30" y="3.40" width="168.90" height="141.50" fill="none" stroke="#262626" stroke-width="1.20"/>
<line x1="431.30" y1="38.40" x2="600.20" y2="38.40" stroke="#262626" stroke-width="1.20"/>
<line x1="431.30" y1="74.10" x2="600.20" y2="74.10" stroke="#262626" stroke-width="1.20"/>
<line x1="431.30" y1="109.40" x2="600.20" y2="109.40" stroke="#262626" stroke-width="1.20"/>
<path d="M437.33,3.40v2.00M437.33,38.40v-2.00M437.33,74.10v-2.00M437.33,109.40v-2.00M437.33,144.90v-2.00M443.36,3.40v3.70M443.36,38.40v-3.70M443.36,74.10v-3.70M443.36,109.40v-3.70M443.36,144.90v-3.70M449.40,3.40v2.00M449.40,38.40v-2.00M449.40,74.10v-2.00M449.40,109.40v-2.00M449.40,144.90v-2.00M455.43,3.40v3.70M455.43,38.40v-3.70M455.43,74.10v-3.70M455.43,109.40v-3.70M455.43,144.90v-3.70M461.46,3.40v2.00M461.46,38.40v-2.00M461.46,74.10v-2.00M461.46,109.40v-2.00M461.46,144.90v-2.00M467.49,3.40v3.70M467.49,38.40v-3.70M467.49,74.10v-3.70M467.49,109.40v-3.70M467.49,144.90v-3.70M473.53,3.40v2.00M473.53,38.40v-2.00M473.53,74.10v-2.00M473.53,109.40v-2.00M473.53,144.90v-2.00M479.56,3.40v3.70M479.56,38.40v-3.70M479.56,74.10v-3.70M479.56,109.40v-3.70M479.56,144.90v-3.70M485.59,3.40v2.00M485.59,38.40v-2.00M485.59,74.10v-2.00M485.59,109.40v-2.00M485.59,144.90v-2.00M491.62,3.40v3.70M491.62,38.40v-3.70M491.62,74.10v-3.70M491.62,109.40v-3.70M491.62,144.90v-3.70M497.65,3.40v2.00M497.65,38.40v-2.00M497.65,74.10v-2.00M497.65,109.40v-2.00M497.65,144.90v-2.00M503.69,3.40v3.70M503.69,38.40v-3.70M503.69,74.10v-3.70M503.69,109.40v-3.70M503.69,144.90v-3.70M509.72,3.40v2.00M509.72,38.40v-2.00M509.72,74.10v-2.00M509.72,109.40v-2.00M509.72,144.90v-2.00M515.75,3.40v3.70M515.75,38.40v-3.70M515.75,74.10v-3.70M515.75,109.40v-3.70M515.75,144.90v-3.70M521.78,3.40v2.00M521.78,38.40v-2.00M521.78,74.10v-2.00M521.78,109.40v-2.00M521.78,144.90v-2.00M527.81,3.40v3.70M527.81,38.40v-3.70M527.81,74.10v-3.70M527.81,109.40v-3.70M527.81,144.90v-3.70M533.85,3.40v2.00M533.85,38.40v-2.00M533.85,74.10v-2.00M533.85,109.40v-2.00M533.85,144.90v-2.00M539.88,3.40v3.70M539.88,38.40v-3.70M539.88,74.10v-3.70M539.88,109.40v-3.70M539.88,144.90v-3.70M545.91,3.40v2.00M545.91,38.40v-2.00M545.91,74.10v-2.00M545.91,109.40v-2.00M545.91,144.90v-2.00M551.94,3.40v3.70M551.94,38.40v-3.70M551.94,74.10v-3.70M551.94,109.40v-3.70M551.94,144.90v-3.70M557.98,3.40v2.00M557.98,38.40v-2.00M557.98,74.10v-2.00M557.98,109.40v-2.00M557.98,144.90v-2.00M564.01,3.40v3.70M564.01,38.40v-3.70M564.01,74.10v-3.70M564.01,109.40v-3.70M564.01,144.90v-3.70M570.04,3.40v2.00M570.04,38.40v-2.00M570.04,74.10v-2.00M570.04,109.40v-2.00M570.04,144.90v-2.00M576.07,3.40v3.70M576.07,38.40v-3.70M576.07,74.10v-3.70M576.07,109.40v-3.70M576.07,144.90v-3.70M582.10,3.40v2.00M582.10,38.40v-2.00M582.10,74.10v-2.00M582.10,109.40v-2.00M582.10,144.90v-2.00M588.14,3.40v3.70M588.14,38.40v-3.70M588.14,74.10v-3.70M588.14,109.40v-3.70M588.14,144.90v-3.70M594.17,3.40v2.00M594.17,38.40v-2.00M594.17,74.10v-2.00M594.17,109.40v-2.00M594.17,144.90v-2.00M431.30,34.90h2.00M600.20,34.90h-2.00M431.30,31.40h3.70M600.20,31.40h-3.70M431.30,27.90h2.00M600.20,27.90h-2.00M431.30,24.40h3.70M600.20,24.40h-3.70M431.30,20.90h2.00M600.20,20.90h-2.00M431.30,17.40h3.70M600.20,17.40h-3.70M431.30,13.90h2.00M600.20,13.90h-2.00M431.30,10.40h3.70M600.20,10.40h-3.70M431.30,6.90h2.00M600.20,6.90h-2.00M431.30,70.50h2.00M600.20,70.50h-2.00M431.30,66.90h3.70M600.20,66.90h-3.70M431.30,63.30h2.00M600.20,63.30h-2.00M431.30,59.70h3.70M600.20,59.70h-3.70M431.30,56.10h2.00M600.20,56.10h-2.00M431.30,52.50h3.70M600.20,52.50h-3.70M431.30,48.90h2.00M600.20,48.90h-2.00M431.30,45.30h3.70M600.20,45.30h-3.70M431.30,41.70h2.00M600.20,41.70h-2.00M431.30,104.40h2.00M600.20,104.40h-2.00M431.30,99.40h3.70M600.20,99.40h-3.70M431.30,94.40h2.00M600.20,94.40h-2.00M431.30,89.40h3.70M600.20,89.40h-3.70M431.30,84.40h2.00M600.20,84.40h-2.00M431.30,79.40h3.70M600.20,79.40h-3.70M431.30,139.90h2.00M600.20,139.90h-2.00M431.30,134.90h3.70M600.20,134.90h-3.70M431.30,129.90h2.00M600.20,129.90h-2.00M431.30,124.90h3.70M600.20,124.90h-3.70M431.30,119.90h2.00M600.20,119.90h-2.00M431.30,114.90h3.70M600.20,114.90h-3.70" stroke="#262626" stroke-width="1.05" fill="none"/>
<path d="M431.90,38.20L441.80,38.20C442.22,37.23 443.38,33.70 444.30,32.40C445.22,31.10 445.92,31.60 447.30,30.40C448.68,29.20 451.22,25.83 452.60,25.20C453.98,24.57 454.63,26.78 455.60,26.60C456.57,26.42 457.38,26.10 458.40,24.10C459.42,22.10 460.58,13.92 461.70,14.60C462.82,15.28 464.13,25.32 465.10,28.20C466.07,31.08 466.53,32.03 467.50,31.90C468.47,31.77 469.73,28.62 470.90,27.40C472.07,26.18 473.27,24.65 474.50,24.60C475.73,24.55 477.25,26.83 478.30,27.10C479.35,27.37 479.68,26.75 480.80,26.20C481.92,25.65 483.75,23.73 485.00,23.80C486.25,23.87 487.00,25.63 488.30,26.60C489.60,27.57 491.55,30.15 492.80,29.60C494.05,29.05 494.80,24.92 495.80,23.30C496.80,21.68 497.70,19.77 498.80,19.90C499.90,20.03 501.10,22.43 502.40,24.10C503.70,25.77 505.48,27.55 506.60,29.90C507.72,32.25 508.68,36.82 509.10,38.20L541.00,38.20C541.90,38.10 545.07,37.95 546.40,37.60C547.73,37.25 548.15,36.78 549.00,36.10C549.85,35.42 550.65,34.80 551.50,33.50C552.35,32.20 553.40,29.77 554.10,28.30C554.80,26.83 555.18,25.90 555.70,24.70C556.22,23.50 556.68,20.93 557.20,21.10C557.72,21.27 558.27,23.72 558.80,25.70C559.33,27.68 559.97,30.92 560.40,33.00C560.83,35.08 560.97,37.33 561.40,38.20C561.83,39.07 562.73,38.20 563.00,38.20L588.14,38.20" fill="none" stroke="#262626" stroke-width="1.25" stroke-linejoin="round"/>
<path d="M431.90,73.90L445.00,73.90C446.17,73.85 449.83,73.62 452.00,73.60C454.17,73.58 450.00,73.77 458.00,73.80C466.00,73.83 491.50,73.78 500.00,73.80C508.50,73.82 507.50,73.88 509.00,73.90L588.14,73.90" fill="none" stroke="#262626" stroke-width="1.25" stroke-linejoin="round"/>
<path d="M431.90,73.90L455.00,73.90C455.98,73.73 459.23,72.90 460.90,72.90C462.57,72.90 456.98,73.73 465.00,73.90C473.02,74.07 501.67,73.90 509.00,73.90L588.14,73.90" fill="none" stroke="#ff3434" stroke-width="1.25" stroke-linejoin="round"/>
<path d="M431.90,73.90L442.30,73.90C442.85,72.62 444.50,67.07 445.60,66.20C446.70,65.33 447.68,69.30 448.90,68.70C450.12,68.10 451.73,62.65 452.90,62.60C454.07,62.55 454.85,67.23 455.90,68.40C456.95,69.57 458.08,69.05 459.20,69.60C460.32,70.15 461.48,71.15 462.60,71.70C463.72,72.25 464.67,72.98 465.90,72.90C467.13,72.82 468.62,71.33 470.00,71.20C471.38,71.07 472.67,71.95 474.20,72.10C475.73,72.25 477.53,72.03 479.20,72.10C480.87,72.17 482.27,72.37 484.20,72.50C486.13,72.63 488.87,72.83 490.80,72.90C492.73,72.97 493.87,72.82 495.80,72.90C497.73,72.98 500.18,73.23 502.40,73.40C504.62,73.57 507.98,73.82 509.10,73.90L541.00,73.90C541.52,73.88 543.02,74.07 544.10,73.80C545.18,73.53 546.45,72.90 547.50,72.30C548.55,71.70 549.43,70.97 550.40,70.20C551.37,69.43 552.15,68.70 553.30,67.70C554.45,66.70 556.33,64.20 557.30,64.20C558.27,64.20 558.52,66.07 559.10,67.70C559.68,69.33 560.23,72.97 560.80,74.00C561.37,75.03 562.22,73.92 562.50,73.90L588.14,73.90" fill="none" stroke="#38f038" stroke-width="1.25" stroke-linejoin="round"/>
<path d="M431.90,109.20L588.14,109.20" fill="none" stroke="#262626" stroke-width="1.25" stroke-linejoin="round"/>
<path d="M431.90,109.20L442.30,109.20C442.68,108.07 443.72,103.83 444.60,102.40C445.48,100.97 446.32,101.65 447.60,100.60C448.88,99.55 450.92,96.63 452.30,96.10C453.68,95.57 454.80,97.68 455.90,97.40C457.00,97.12 457.87,96.75 458.90,94.40C459.93,92.05 461.07,82.60 462.10,83.30C463.13,84.00 464.13,95.42 465.10,98.60C466.07,101.78 466.93,102.55 467.90,102.40C468.87,102.25 469.80,99.08 470.90,97.70C472.00,96.32 473.35,94.28 474.50,94.10C475.65,93.92 476.75,96.40 477.80,96.60C478.85,96.80 479.68,96.00 480.80,95.30C481.92,94.60 483.25,92.55 484.50,92.40C485.75,92.25 486.92,93.43 488.30,94.40C489.68,95.37 491.55,99.17 492.80,98.20C494.05,97.23 494.80,90.83 495.80,88.60C496.80,86.37 497.70,84.52 498.80,84.80C499.90,85.08 501.10,88.15 502.40,90.30C503.70,92.45 505.48,94.55 506.60,97.70C507.72,100.85 508.68,107.28 509.10,109.20L553.00,109.20C553.75,109.10 556.17,108.60 557.50,108.60C558.83,108.60 560.42,109.10 561.00,109.20L588.14,109.20" fill="none" stroke="#ff3434" stroke-width="1.25" stroke-linejoin="round"/>
<path d="M431.90,144.70L588.14,144.70" fill="none" stroke="#262626" stroke-width="1.25" stroke-linejoin="round"/>
<path d="M431.90,144.70L450.00,144.70C451.33,144.60 455.97,144.30 458.00,144.10C460.03,143.90 460.87,143.45 462.20,143.50C463.53,143.55 461.37,144.27 466.00,144.40C470.63,144.53 483.50,144.25 490.00,144.30C496.50,144.35 502.50,144.63 505.00,144.70L588.14,144.70" fill="none" stroke="#ff3434" stroke-width="1.25" stroke-linejoin="round"/>
<path d="M431.90,144.70L444.30,144.70C445.13,144.45 447.37,143.65 449.30,143.20C451.23,142.75 454.10,142.42 455.90,142.00C457.70,141.58 459.05,141.25 460.10,140.70C461.15,140.15 461.37,138.42 462.20,138.70C463.03,138.98 464.15,141.60 465.10,142.40C466.05,143.20 466.52,143.78 467.90,143.50C469.28,143.22 471.80,140.88 473.40,140.70C475.00,140.52 475.70,142.12 477.50,142.40C479.30,142.68 482.27,142.22 484.20,142.40C486.13,142.58 486.90,143.32 489.10,143.50C491.30,143.68 494.90,143.33 497.40,143.50C499.90,143.67 502.33,144.30 504.10,144.50C505.87,144.70 507.35,144.67 508.00,144.70L541.00,144.70C541.67,144.68 543.92,144.80 545.00,144.60C546.08,144.40 546.70,143.93 547.50,143.50C548.30,143.07 549.03,142.82 549.80,142.00C550.57,141.18 551.32,140.33 552.10,138.60C552.88,136.87 553.88,133.53 554.50,131.60C555.12,129.67 555.33,128.47 555.80,127.00C556.27,125.53 556.80,122.32 557.30,122.80C557.80,123.28 558.32,127.37 558.80,129.90C559.28,132.43 559.73,135.53 560.20,138.00C560.67,140.47 561.13,143.58 561.60,144.70C562.07,145.82 562.77,144.70 563.00,144.70L588.14,144.70" fill="none" stroke="#38f038" stroke-width="1.25" stroke-linejoin="round"/>
<text class="tl" font-size="7.60" text-anchor="end" transform="translate(427.60,40.95) scale(1.000,1.050)">0</text>
<text class="tl" font-size="7.60" text-anchor="end" transform="translate(427.60,33.95) scale(1.000,1.050)">10</text>
<text class="tl" font-size="7.60" text-anchor="end" transform="translate(427.60,26.95) scale(1.000,1.050)">20</text>
<text class="tl" font-size="7.60" text-anchor="end" transform="translate(427.60,19.95) scale(1.000,1.050)">30</text>
<text class="tl" font-size="7.60" text-anchor="end" transform="translate(427.60,12.95) scale(1.000,1.050)">40</text>
<text class="tl" font-size="7.60" text-anchor="end" transform="translate(427.60,5.95) scale(1.000,1.050)">50</text>
<text class="tl" font-size="7.60" text-anchor="end" transform="translate(427.60,76.65) scale(1.000,1.050)">0</text>
<text class="tl" font-size="7.60" text-anchor="end" transform="translate(427.60,69.45) scale(1.000,1.050)">1</text>
<text class="tl" font-size="7.60" text-anchor="end" transform="translate(427.60,62.25) scale(1.000,1.050)">2</text>
<text class="tl" font-size="7.60" text-anchor="end" transform="translate(427.60,55.05) scale(1.000,1.050)">3</text>
<text class="tl" font-size="7.60" text-anchor="end" transform="translate(427.60,47.85) scale(1.000,1.050)">4</text>
<text class="tl" font-size="7.60" text-anchor="end" transform="translate(427.60,111.95) scale(1.000,1.050)">0</text>
<text class="tl" font-size="7.60" text-anchor="end" transform="translate(427.60,101.95) scale(1.000,1.050)">10</text>
<text class="tl" font-size="7.60" text-anchor="end" transform="translate(427.60,91.95) scale(1.000,1.050)">20</text>
<text class="tl" font-size="7.60" text-anchor="end" transform="translate(427.60,81.95) scale(1.000,1.050)">30</text>
<text class="tl" font-size="7.60" text-anchor="end" transform="translate(427.60,147.45) scale(1.000,1.050)">0</text>
<text class="tl" font-size="7.60" text-anchor="end" transform="translate(427.60,137.45) scale(1.000,1.050)">10</text>
<text class="tl" font-size="7.60" text-anchor="end" transform="translate(427.60,127.45) scale(1.000,1.050)">20</text>
<text class="tl" font-size="7.60" text-anchor="end" transform="translate(427.60,117.45) scale(1.000,1.050)">30</text>
<text class="tl" font-size="7.80" text-anchor="middle" transform="translate(431.30,154.22) scale(1.000,0.930)">-10</text>
<text class="tl" font-size="7.80" text-anchor="middle" transform="translate(443.36,154.22) scale(1.000,0.930)">-9</text>
<text class="tl" font-size="7.80" text-anchor="middle" transform="translate(455.43,154.22) scale(1.000,0.930)">-8</text>
<text class="tl" font-size="7.80" text-anchor="middle" transform="translate(467.49,154.22) scale(1.000,0.930)">-7</text>
<text class="tl" font-size="7.80" text-anchor="middle" transform="translate(479.56,154.22) scale(1.000,0.930)">-6</text>
<text class="tl" font-size="7.80" text-anchor="middle" transform="translate(491.62,154.22) scale(1.000,0.930)">-5</text>
<text class="tl" font-size="7.80" text-anchor="middle" transform="translate(503.69,154.22) scale(1.000,0.930)">-4</text>
<text class="tl" font-size="7.80" text-anchor="middle" transform="translate(515.75,154.22) scale(1.000,0.930)">-3</text>
<text class="tl" font-size="7.80" text-anchor="middle" transform="translate(527.81,154.22) scale(1.000,0.930)">-2</text>
<text class="tl" font-size="7.80" text-anchor="middle" transform="translate(539.88,154.22) scale(1.000,0.930)">-1</text>
<text class="tl" font-size="7.80" text-anchor="middle" transform="translate(551.94,154.22) scale(1.000,0.930)">0</text>
<text class="tl" font-size="7.80" text-anchor="middle" transform="translate(564.01,154.22) scale(1.000,0.930)">1</text>
<text class="tl" font-size="7.80" text-anchor="middle" transform="translate(576.07,154.22) scale(1.000,0.930)">2</text>
<text class="tl" font-size="7.80" text-anchor="middle" transform="translate(588.14,154.22) scale(1.000,0.930)">3</text>
<text class="tl" font-size="7.80" text-anchor="middle" transform="translate(600.20,154.22) scale(1.000,0.930)">4</text>
<text x="515.75" y="161.80" class="tl" font-size="7.80" text-anchor="middle">Energy (eV)</text>
<text class="tl" font-size="7.20" text-anchor="middle" transform="translate(415.10,75.05) rotate(-90) scale(1,1.180)">Density of states (electrons/eV)</text>
<text class="pb" font-size="15.20" transform="translate(437.23,18.70) scale(1.100,1.000)">(c)</text>
<line x1="552.20" y1="9.55" x2="570.60" y2="9.55" stroke="#262626" stroke-width="1.3"/>
<text x="573.10" y="12.35" class="lg" font-size="7.50">TDOS</text>
<line x1="554.10" y1="43.55" x2="571.40" y2="43.55" stroke="#262626" stroke-width="1.3"/>
<text class="lg" font-size="7.50" transform="translate(573.30,46.35) scale(1.030,1.000)">Nb 5s</text>
<line x1="554.10" y1="52.45" x2="571.40" y2="52.45" stroke="#ff3434" stroke-width="1.3"/>
<text class="lg" font-size="7.50" transform="translate(573.30,55.25) scale(1.030,1.000)">Nb 4p</text>
<line x1="554.10" y1="61.15" x2="571.40" y2="61.15" stroke="#38f038" stroke-width="1.3"/>
<text class="lg" font-size="7.50" transform="translate(573.30,63.95) scale(1.030,1.000)">Nb 4d</text>
<line x1="556.30" y1="79.15" x2="574.10" y2="79.15" stroke="#262626" stroke-width="1.3"/>
<text class="lg" font-size="7.50" transform="translate(576.00,81.95) scale(1.070,1.000)">O 2s</text>
<line x1="556.30" y1="87.95" x2="574.10" y2="87.95" stroke="#ff3434" stroke-width="1.3"/>
<text class="lg" font-size="7.50" transform="translate(576.00,90.75) scale(1.070,1.000)">O 2p</text>
<line x1="560.40" y1="114.85" x2="578.70" y2="114.85" stroke="#262626" stroke-width="1.3"/>
<text class="lg" font-size="7.50" transform="translate(580.10,117.65) scale(1.120,1.000)">Ti 4s</text>
<line x1="560.40" y1="123.15" x2="578.70" y2="123.15" stroke="#ff3434" stroke-width="1.3"/>
<text class="lg" font-size="7.50" transform="translate(580.10,125.95) scale(1.120,1.000)">Ti 3p</text>
<line x1="560.40" y1="131.55" x2="578.70" y2="131.55" stroke="#38f038" stroke-width="1.3"/>
<text class="lg" font-size="7.50" transform="translate(580.10,134.35) scale(1.120,1.000)">Ti 3d</text>
<line x1="150.14" y1="178.00" x2="150.14" y2="318.60" stroke="#ff8080" stroke-width="1.0" stroke-dasharray="1.4,1.1"/>
<rect x="23.50" y="178.00" width="177.30" height="140.60" fill="none" stroke="#262626" stroke-width="1.20"/>
<line x1="23.50" y1="213.30" x2="200.80" y2="213.30" stroke="#262626" stroke-width="1.20"/>
<line x1="23.50" y1="248.40" x2="200.80" y2="248.40" stroke="#262626" stroke-width="1.20"/>
<line x1="23.50" y1="283.30" x2="200.80" y2="283.30" stroke="#262626" stroke-width="1.20"/>
<path d="M29.83,178.00v2.00M29.83,213.30v-2.00M29.83,248.40v-2.00M29.83,283.30v-2.00M29.83,318.60v-2.00M36.16,178.00v3.70M36.16,213.30v-3.70M36.16,248.40v-3.70M36.16,283.30v-3.70M36.16,318.60v-3.70M42.50,178.00v2.00M42.50,213.30v-2.00M42.50,248.40v-2.00M42.50,283.30v-2.00M42.50,318.60v-2.00M48.83,178.00v3.70M48.83,213.30v-3.70M48.83,248.40v-3.70M48.83,283.30v-3.70M48.83,318.60v-3.70M55.16,178.00v2.00M55.16,213.30v-2.00M55.16,248.40v-2.00M55.16,283.30v-2.00M55.16,318.60v-2.00M61.49,178.00v3.70M61.49,213.30v-3.70M61.49,248.40v-3.70M61.49,283.30v-3.70M61.49,318.60v-3.70M67.83,178.00v2.00M67.83,213.30v-2.00M67.83,248.40v-2.00M67.83,283.30v-2.00M67.83,318.60v-2.00M74.16,178.00v3.70M74.16,213.30v-3.70M74.16,248.40v-3.70M74.16,283.30v-3.70M74.16,318.60v-3.70M80.49,178.00v2.00M80.49,213.30v-2.00M80.49,248.40v-2.00M80.49,283.30v-2.00M80.49,318.60v-2.00M86.82,178.00v3.70M86.82,213.30v-3.70M86.82,248.40v-3.70M86.82,283.30v-3.70M86.82,318.60v-3.70M93.15,178.00v2.00M93.15,213.30v-2.00M93.15,248.40v-2.00M93.15,283.30v-2.00M93.15,318.60v-2.00M99.49,178.00v3.70M99.49,213.30v-3.70M99.49,248.40v-3.70M99.49,283.30v-3.70M99.49,318.60v-3.70M105.82,178.00v2.00M105.82,213.30v-2.00M105.82,248.40v-2.00M105.82,283.30v-2.00M105.82,318.60v-2.00M112.15,178.00v3.70M112.15,213.30v-3.70M112.15,248.40v-3.70M112.15,283.30v-3.70M112.15,318.60v-3.70M118.48,178.00v2.00M118.48,213.30v-2.00M118.48,248.40v-2.00M118.48,283.30v-2.00M118.48,318.60v-2.00M124.81,178.00v3.70M124.81,213.30v-3.70M124.81,248.40v-3.70M124.81,283.30v-3.70M124.81,318.60v-3.70M131.15,178.00v2.00M131.15,213.30v-2.00M131.15,248.40v-2.00M131.15,283.30v-2.00M131.15,318.60v-2.00M137.48,178.00v3.70M137.48,213.30v-3.70M137.48,248.40v-3.70M137.48,283.30v-3.70M137.48,318.60v-3.70M143.81,178.00v2.00M143.81,213.30v-2.00M143.81,248.40v-2.00M143.81,283.30v-2.00M143.81,318.60v-2.00M150.14,178.00v3.70M150.14,213.30v-3.70M150.14,248.40v-3.70M150.14,283.30v-3.70M150.14,318.60v-3.70M156.48,178.00v2.00M156.48,213.30v-2.00M156.48,248.40v-2.00M156.48,283.30v-2.00M156.48,318.60v-2.00M162.81,178.00v3.70M162.81,213.30v-3.70M162.81,248.40v-3.70M162.81,283.30v-3.70M162.81,318.60v-3.70M169.14,178.00v2.00M169.14,213.30v-2.00M169.14,248.40v-2.00M169.14,283.30v-2.00M169.14,318.60v-2.00M175.47,178.00v3.70M175.47,213.30v-3.70M175.47,248.40v-3.70M175.47,283.30v-3.70M175.47,318.60v-3.70M181.80,178.00v2.00M181.80,213.30v-2.00M181.80,248.40v-2.00M181.80,283.30v-2.00M181.80,318.60v-2.00M188.14,178.00v3.70M188.14,213.30v-3.70M188.14,248.40v-3.70M188.14,283.30v-3.70M188.14,318.60v-3.70M194.47,178.00v2.00M194.47,213.30v-2.00M194.47,248.40v-2.00M194.47,283.30v-2.00M194.47,318.60v-2.00M23.50,209.77h2.00M200.80,209.77h-2.00M23.50,206.24h3.70M200.80,206.24h-3.70M23.50,202.71h2.00M200.80,202.71h-2.00M23.50,199.18h3.70M200.80,199.18h-3.70M23.50,195.65h2.00M200.80,195.65h-2.00M23.50,192.12h3.70M200.80,192.12h-3.70M23.50,188.59h2.00M200.80,188.59h-2.00M23.50,185.06h3.70M200.80,185.06h-3.70M23.50,181.53h2.00M200.80,181.53h-2.00M23.50,243.20h2.00M200.80,243.20h-2.00M23.50,238.00h3.70M200.80,238.00h-3.70M23.50,232.80h2.00M200.80,232.80h-2.00M23.50,227.60h3.70M200.80,227.60h-3.70M23.50,222.40h2.00M200.80,222.40h-2.00M23.50,217.20h3.70M200.80,217.20h-3.70M23.50,278.30h2.00M200.80,278.30h-2.00M23.50,273.30h3.70M200.80,273.30h-3.70M23.50,268.30h2.00M200.80,268.30h-2.00M23.50,263.30h3.70M200.80,263.30h-3.70M23.50,258.30h2.00M200.80,258.30h-2.00M23.50,253.30h3.70M200.80,253.30h-3.70M23.50,313.60h2.00M200.80,313.60h-2.00M23.50,308.60h3.70M200.80,308.60h-3.70M23.50,303.60h2.00M200.80,303.60h-2.00M23.50,298.60h3.70M200.80,298.60h-3.70M23.50,293.60h2.00M200.80,293.60h-2.00M23.50,288.60h3.70M200.80,288.60h-3.70" stroke="#262626" stroke-width="1.05" fill="none"/>
<path d="M24.10,213.10L34.30,213.10C34.77,211.87 36.22,207.28 37.10,205.70C37.98,204.12 38.85,203.78 39.60,203.60C40.35,203.42 40.63,205.48 41.60,204.60C42.57,203.72 44.13,198.80 45.40,198.30C46.67,197.80 48.00,201.60 49.20,201.60C50.40,201.60 51.57,199.88 52.60,198.30C53.63,196.72 54.52,191.83 55.40,192.10C56.28,192.37 56.98,197.68 57.90,199.90C58.82,202.12 59.93,204.85 60.90,205.40C61.87,205.95 62.77,204.20 63.70,203.20C64.63,202.20 65.25,199.82 66.50,199.40C67.75,198.98 69.73,200.42 71.20,200.70C72.67,200.98 74.07,201.50 75.30,201.10C76.53,200.70 77.40,198.37 78.60,198.30C79.80,198.23 81.10,199.73 82.50,200.70C83.90,201.67 85.85,204.50 87.00,204.10C88.15,203.70 88.43,199.97 89.40,198.30C90.37,196.63 91.68,194.25 92.80,194.10C93.92,193.95 94.87,195.88 96.10,197.40C97.33,198.92 98.87,200.58 100.20,203.20C101.53,205.82 103.45,211.45 104.10,213.10L137.00,213.10C137.45,213.10 138.70,213.22 139.70,213.10C140.70,212.98 141.98,213.00 143.00,212.40C144.02,211.80 144.93,210.13 145.80,209.50C146.67,208.87 147.48,209.23 148.20,208.60C148.92,207.97 149.38,206.47 150.10,205.70C150.82,204.93 151.83,204.95 152.50,204.00C153.17,203.05 153.58,201.22 154.10,200.00C154.62,198.78 155.17,196.93 155.60,196.70C156.03,196.47 156.28,197.25 156.70,198.60C157.12,199.95 157.62,202.82 158.10,204.80C158.58,206.78 159.12,209.12 159.60,210.50C160.08,211.88 160.77,212.67 161.00,213.10L188.14,213.10" fill="none" stroke="#262626" stroke-width="1.25" stroke-linejoin="round"/>
<path d="M24.10,248.20L40.00,248.20C41.67,248.13 46.67,247.82 50.00,247.80C53.33,247.78 51.67,248.05 60.00,248.10C68.33,248.15 92.67,248.08 100.00,248.10C107.33,248.12 103.33,248.18 104.00,248.20L188.14,248.20" fill="none" stroke="#262626" stroke-width="1.25" stroke-linejoin="round"/>
<path d="M24.10,248.20L48.00,248.20C49.10,247.98 52.93,246.93 54.60,246.90C56.27,246.87 52.10,247.85 58.00,248.00C63.90,248.15 82.50,247.77 90.00,247.80C97.50,247.83 100.83,248.13 103.00,248.20L188.14,248.20" fill="none" stroke="#ff3434" stroke-width="1.25" stroke-linejoin="round"/>
<path d="M24.10,248.20L34.30,248.20C34.92,247.07 36.90,242.33 38.00,241.40C39.10,240.47 39.67,243.38 40.90,242.60C42.13,241.82 44.02,236.85 45.40,236.70C46.78,236.55 47.95,240.58 49.20,241.70C50.45,242.82 51.73,242.70 52.90,243.40C54.07,244.10 55.10,245.30 56.20,245.90C57.30,246.50 58.12,247.05 59.50,247.00C60.88,246.95 62.83,245.70 64.50,245.60C66.17,245.50 68.12,246.35 69.50,246.40C70.88,246.45 71.13,245.85 72.80,245.90C74.47,245.95 77.28,246.43 79.50,246.70C81.72,246.97 84.17,247.45 86.10,247.50C88.03,247.55 89.15,246.93 91.10,247.00C93.05,247.07 95.87,247.70 97.80,247.90C99.73,248.10 101.88,248.15 102.70,248.20L137.00,248.20C137.37,248.18 138.20,248.32 139.20,248.10C140.20,247.88 141.82,247.53 143.00,246.90C144.18,246.27 145.43,244.85 146.30,244.30C147.17,243.75 147.48,243.97 148.20,243.60C148.92,243.23 149.88,242.42 150.60,242.10C151.32,241.78 151.92,242.17 152.50,241.70C153.08,241.23 153.58,240.02 154.10,239.30C154.62,238.58 155.13,237.55 155.60,237.40C156.07,237.25 156.48,237.53 156.90,238.40C157.32,239.27 157.62,241.10 158.10,242.60C158.58,244.10 159.32,246.47 159.80,247.40C160.28,248.33 160.80,248.07 161.00,248.20L188.14,248.20" fill="none" stroke="#38f038" stroke-width="1.25" stroke-linejoin="round"/>
<path d="M24.10,283.10L188.14,283.10" fill="none" stroke="#262626" stroke-width="1.25" stroke-linejoin="round"/>
<path d="M24.10,283.10L34.30,283.10C34.77,281.68 36.22,276.22 37.10,274.60C37.98,272.98 38.85,273.47 39.60,273.40C40.35,273.33 40.63,275.17 41.60,274.20C42.57,273.23 44.13,268.10 45.40,267.60C46.67,267.10 48.00,271.20 49.20,271.20C50.40,271.20 51.57,269.37 52.60,267.60C53.63,265.83 54.52,260.32 55.40,260.60C56.28,260.88 56.98,266.80 57.90,269.30C58.82,271.80 59.93,274.92 60.90,275.60C61.87,276.28 62.77,274.60 63.70,273.40C64.63,272.20 65.25,268.95 66.50,268.40C67.75,267.85 69.73,269.87 71.20,270.10C72.67,270.33 74.07,270.43 75.30,269.80C76.53,269.17 77.40,266.53 78.60,266.30C79.80,266.07 81.10,267.43 82.50,268.40C83.90,269.37 85.85,272.65 87.00,272.10C88.15,271.55 88.43,267.37 89.40,265.10C90.37,262.83 91.68,258.92 92.80,258.50C93.92,258.08 94.87,260.53 96.10,262.60C97.33,264.67 98.82,267.48 100.20,270.90C101.58,274.32 103.70,281.07 104.40,283.10L150.00,283.10C150.83,283.00 153.50,282.50 155.00,282.50C156.50,282.50 158.33,283.00 159.00,283.10L188.14,283.10" fill="none" stroke="#ff3434" stroke-width="1.25" stroke-linejoin="round"/>
<path d="M24.10,318.40L188.14,318.40" fill="none" stroke="#262626" stroke-width="1.25" stroke-linejoin="round"/>
<path d="M24.10,318.40L45.00,318.40C46.73,318.22 52.90,317.33 55.40,317.30C57.90,317.27 54.23,318.05 60.00,318.20C65.77,318.35 83.33,318.17 90.00,318.20C96.67,318.23 98.33,318.37 100.00,318.40L188.14,318.40" fill="none" stroke="#ff3434" stroke-width="1.25" stroke-linejoin="round"/>
<path d="M24.10,318.40L36.30,318.40C37.13,318.15 39.37,317.27 41.30,316.90C43.23,316.53 46.10,316.40 47.90,316.20C49.70,316.00 50.85,316.20 52.10,315.70C53.35,315.20 54.30,313.12 55.40,313.20C56.50,313.28 57.60,315.65 58.70,316.20C59.80,316.75 60.75,316.72 62.00,316.50C63.25,316.28 64.67,315.08 66.20,314.90C67.73,314.72 69.53,315.27 71.20,315.40C72.87,315.53 74.55,315.45 76.20,315.70C77.85,315.95 78.90,316.62 81.10,316.90C83.30,317.18 86.90,317.18 89.40,317.40C91.90,317.62 94.33,318.03 96.10,318.20C97.87,318.37 99.35,318.37 100.00,318.40L137.00,318.40C137.37,318.38 138.20,318.47 139.20,318.30C140.20,318.13 141.90,318.03 143.00,317.40C144.10,316.77 144.93,315.17 145.80,314.50C146.67,313.83 147.48,314.15 148.20,313.40C148.92,312.65 149.38,310.88 150.10,310.00C150.82,309.12 151.83,309.08 152.50,308.10C153.17,307.12 153.58,305.58 154.10,304.10C154.62,302.62 155.17,299.75 155.60,299.20C156.03,298.65 156.28,299.35 156.70,300.80C157.12,302.25 157.62,305.62 158.10,307.90C158.58,310.18 159.12,312.75 159.60,314.50C160.08,316.25 160.77,317.75 161.00,318.40L188.14,318.40" fill="none" stroke="#38f038" stroke-width="1.25" stroke-linejoin="round"/>
<text class="tl" font-size="7.60" text-anchor="end" transform="translate(19.80,215.85) scale(1.000,1.050)">0</text>
<text class="tl" font-size="7.60" text-anchor="end" transform="translate(19.80,208.79) scale(1.000,1.050)">10</text>
<text class="tl" font-size="7.60" text-anchor="end" transform="translate(19.80,201.73) scale(1.000,1.050)">20</text>
<text class="tl" font-size="7.60" text-anchor="end" transform="translate(19.80,194.67) scale(1.000,1.050)">30</text>
<text class="tl" font-size="7.60" text-anchor="end" transform="translate(19.80,187.61) scale(1.000,1.050)">40</text>
<text class="tl" font-size="7.60" text-anchor="end" transform="translate(19.80,180.55) scale(1.000,1.050)">50</text>
<text class="tl" font-size="7.60" text-anchor="end" transform="translate(19.80,250.95) scale(1.000,1.050)">0</text>
<text class="tl" font-size="7.60" text-anchor="end" transform="translate(19.80,240.55) scale(1.000,1.050)">2</text>
<text class="tl" font-size="7.60" text-anchor="end" transform="translate(19.80,230.15) scale(1.000,1.050)">4</text>
<text class="tl" font-size="7.60" text-anchor="end" transform="translate(19.80,219.75) scale(1.000,1.050)">6</text>
<text class="tl" font-size="7.60" text-anchor="end" transform="translate(19.80,285.85) scale(1.000,1.050)">0</text>
<text class="tl" font-size="7.60" text-anchor="end" transform="translate(19.80,275.85) scale(1.000,1.050)">10</text>
<text class="tl" font-size="7.60" text-anchor="end" transform="translate(19.80,265.85) scale(1.000,1.050)">20</text>
<text class="tl" font-size="7.60" text-anchor="end" transform="translate(19.80,255.85) scale(1.000,1.050)">30</text>
<text class="tl" font-size="7.60" text-anchor="end" transform="translate(19.80,321.15) scale(1.000,1.050)">0</text>
<text class="tl" font-size="7.60" text-anchor="end" transform="translate(19.80,311.15) scale(1.000,1.050)">10</text>
<text class="tl" font-size="7.60" text-anchor="end" transform="translate(19.80,301.15) scale(1.000,1.050)">20</text>
<text class="tl" font-size="7.60" text-anchor="end" transform="translate(19.80,291.15) scale(1.000,1.050)">30</text>
<text class="tl" font-size="7.80" text-anchor="middle" transform="translate(23.50,327.92) scale(1.000,0.930)">-10</text>
<text class="tl" font-size="7.80" text-anchor="middle" transform="translate(36.16,327.92) scale(1.000,0.930)">-9</text>
<text class="tl" font-size="7.80" text-anchor="middle" transform="translate(48.83,327.92) scale(1.000,0.930)">-8</text>
<text class="tl" font-size="7.80" text-anchor="middle" transform="translate(61.49,327.92) scale(1.000,0.930)">-7</text>
<text class="tl" font-size="7.80" text-anchor="middle" transform="translate(74.16,327.92) scale(1.000,0.930)">-6</text>
<text class="tl" font-size="7.80" text-anchor="middle" transform="translate(86.82,327.92) scale(1.000,0.930)">-5</text>
<text class="tl" font-size="7.80" text-anchor="middle" transform="translate(99.49,327.92) scale(1.000,0.930)">-4</text>
<text class="tl" font-size="7.80" text-anchor="middle" transform="translate(112.15,327.92) scale(1.000,0.930)">-3</text>
<text class="tl" font-size="7.80" text-anchor="middle" transform="translate(124.81,327.92) scale(1.000,0.930)">-2</text>
<text class="tl" font-size="7.80" text-anchor="middle" transform="translate(137.48,327.92) scale(1.000,0.930)">-1</text>
<text class="tl" font-size="7.80" text-anchor="middle" transform="translate(150.14,327.92) scale(1.000,0.930)">0</text>
<text class="tl" font-size="7.80" text-anchor="middle" transform="translate(162.81,327.92) scale(1.000,0.930)">1</text>
<text class="tl" font-size="7.80" text-anchor="middle" transform="translate(175.47,327.92) scale(1.000,0.930)">2</text>
<text class="tl" font-size="7.80" text-anchor="middle" transform="translate(188.14,327.92) scale(1.000,0.930)">3</text>
<text class="tl" font-size="7.80" text-anchor="middle" transform="translate(200.80,327.92) scale(1.000,0.930)">4</text>
<text class="tl" font-size="7.80" text-anchor="middle" transform="translate(112.15,335.10) scale(1.000,0.920)">Energy (eV)</text>
<text class="tl" font-size="7.13" text-anchor="middle" transform="translate(6.20,249.45) rotate(-90) scale(1,1.180)">Density of states (electrons/eV)</text>
<text class="pn" font-size="15.20" transform="translate(29.53,192.70) scale(1.090,1.000)">(d)</text>
<line x1="150.60" y1="184.55" x2="169.60" y2="184.55" stroke="#262626" stroke-width="1.3"/>
<text x="171.80" y="187.35" class="lg" font-size="7.50">TDOS</text>
<line x1="151.70" y1="218.35" x2="170.40" y2="218.35" stroke="#262626" stroke-width="1.3"/>
<text class="lg" font-size="7.50" transform="translate(172.30,221.15) scale(1.030,1.000)">Nb 5s</text>
<line x1="151.70" y1="227.15" x2="170.40" y2="227.15" stroke="#ff3434" stroke-width="1.3"/>
<text class="lg" font-size="7.50" transform="translate(172.30,229.95) scale(1.030,1.000)">Nb 4p</text>
<line x1="151.70" y1="235.45" x2="170.40" y2="235.45" stroke="#38f038" stroke-width="1.3"/>
<text class="lg" font-size="7.50" transform="translate(172.30,238.25) scale(1.030,1.000)">Nb 4d</text>
<line x1="153.90" y1="252.85" x2="173.40" y2="252.85" stroke="#262626" stroke-width="1.3"/>
<text class="lg" font-size="7.50" transform="translate(174.80,255.65) scale(1.070,1.000)">O 2s</text>
<line x1="153.90" y1="261.55" x2="173.40" y2="261.55" stroke="#ff3434" stroke-width="1.3"/>
<text class="lg" font-size="7.50" transform="translate(174.80,264.35) scale(1.070,1.000)">O 2p</text>
<line x1="158.90" y1="288.25" x2="177.90" y2="288.25" stroke="#262626" stroke-width="1.3"/>
<text class="lg" font-size="7.50" transform="translate(179.80,291.05) scale(1.120,1.000)">Ti 4s</text>
<line x1="158.90" y1="296.95" x2="177.90" y2="296.95" stroke="#ff3434" stroke-width="1.3"/>
<text class="lg" font-size="7.50" transform="translate(179.80,299.75) scale(1.120,1.000)">Ti 3p</text>
<line x1="158.90" y1="305.55" x2="177.90" y2="305.55" stroke="#38f038" stroke-width="1.3"/>
<text class="lg" font-size="7.50" transform="translate(179.80,308.35) scale(1.120,1.000)">Ti 3d</text>
<line x1="352.54" y1="177.80" x2="352.54" y2="319.30" stroke="#ff8080" stroke-width="1.0" stroke-dasharray="1.4,1.1"/>
<rect x="230.40" y="177.80" width="171.00" height="141.50" fill="none" stroke="#262626" stroke-width="1.20"/>
<line x1="230.40" y1="213.20" x2="401.40" y2="213.20" stroke="#262626" stroke-width="1.20"/>
<line x1="230.40" y1="248.40" x2="401.40" y2="248.40" stroke="#262626" stroke-width="1.20"/>
<line x1="230.40" y1="283.90" x2="401.40" y2="283.90" stroke="#262626" stroke-width="1.20"/>
<path d="M236.51,177.80v2.00M236.51,213.20v-2.00M236.51,248.40v-2.00M236.51,283.90v-2.00M236.51,319.30v-2.00M242.61,177.80v3.70M242.61,213.20v-3.70M242.61,248.40v-3.70M242.61,283.90v-3.70M242.61,319.30v-3.70M248.72,177.80v2.00M248.72,213.20v-2.00M248.72,248.40v-2.00M248.72,283.90v-2.00M248.72,319.30v-2.00M254.83,177.80v3.70M254.83,213.20v-3.70M254.83,248.40v-3.70M254.83,283.90v-3.70M254.83,319.30v-3.70M260.94,177.80v2.00M260.94,213.20v-2.00M260.94,248.40v-2.00M260.94,283.90v-2.00M260.94,319.30v-2.00M267.04,177.80v3.70M267.04,213.20v-3.70M267.04,248.40v-3.70M267.04,283.90v-3.70M267.04,319.30v-3.70M273.15,177.80v2.00M273.15,213.20v-2.00M273.15,248.40v-2.00M273.15,283.90v-2.00M273.15,319.30v-2.00M279.26,177.80v3.70M279.26,213.20v-3.70M279.26,248.40v-3.70M279.26,283.90v-3.70M279.26,319.30v-3.70M285.36,177.80v2.00M285.36,213.20v-2.00M285.36,248.40v-2.00M285.36,283.90v-2.00M285.36,319.30v-2.00M291.47,177.80v3.70M291.47,213.20v-3.70M291.47,248.40v-3.70M291.47,283.90v-3.70M291.47,319.30v-3.70M297.58,177.80v2.00M297.58,213.20v-2.00M297.58,248.40v-2.00M297.58,283.90v-2.00M297.58,319.30v-2.00M303.69,177.80v3.70M303.69,213.20v-3.70M303.69,248.40v-3.70M303.69,283.90v-3.70M303.69,319.30v-3.70M309.79,177.80v2.00M309.79,213.20v-2.00M309.79,248.40v-2.00M309.79,283.90v-2.00M309.79,319.30v-2.00M315.90,177.80v3.70M315.90,213.20v-3.70M315.90,248.40v-3.70M315.90,283.90v-3.70M315.90,319.30v-3.70M322.01,177.80v2.00M322.01,213.20v-2.00M322.01,248.40v-2.00M322.01,283.90v-2.00M322.01,319.30v-2.00M328.11,177.80v3.70M328.11,213.20v-3.70M328.11,248.40v-3.70M328.11,283.90v-3.70M328.11,319.30v-3.70M334.22,177.80v2.00M334.22,213.20v-2.00M334.22,248.40v-2.00M334.22,283.90v-2.00M334.22,319.30v-2.00M340.33,177.80v3.70M340.33,213.20v-3.70M340.33,248.40v-3.70M340.33,283.90v-3.70M340.33,319.30v-3.70M346.44,177.80v2.00M346.44,213.20v-2.00M346.44,248.40v-2.00M346.44,283.90v-2.00M346.44,319.30v-2.00M352.54,177.80v3.70M352.54,213.20v-3.70M352.54,248.40v-3.70M352.54,283.90v-3.70M352.54,319.30v-3.70M358.65,177.80v2.00M358.65,213.20v-2.00M358.65,248.40v-2.00M358.65,283.90v-2.00M358.65,319.30v-2.00M364.76,177.80v3.70M364.76,213.20v-3.70M364.76,248.40v-3.70M364.76,283.90v-3.70M364.76,319.30v-3.70M370.86,177.80v2.00M370.86,213.20v-2.00M370.86,248.40v-2.00M370.86,283.90v-2.00M370.86,319.30v-2.00M376.97,177.80v3.70M376.97,213.20v-3.70M376.97,248.40v-3.70M376.97,283.90v-3.70M376.97,319.30v-3.70M383.08,177.80v2.00M383.08,213.20v-2.00M383.08,248.40v-2.00M383.08,283.90v-2.00M383.08,319.30v-2.00M389.19,177.80v3.70M389.19,213.20v-3.70M389.19,248.40v-3.70M389.19,283.90v-3.70M389.19,319.30v-3.70M395.29,177.80v2.00M395.29,213.20v-2.00M395.29,248.40v-2.00M395.29,283.90v-2.00M395.29,319.30v-2.00M230.40,209.66h2.00M401.40,209.66h-2.00M230.40,206.12h3.70M401.40,206.12h-3.70M230.40,202.58h2.00M401.40,202.58h-2.00M230.40,199.04h3.70M401.40,199.04h-3.70M230.40,195.50h2.00M401.40,195.50h-2.00M230.40,191.96h3.70M401.40,191.96h-3.70M230.40,188.42h2.00M401.40,188.42h-2.00M230.40,184.88h3.70M401.40,184.88h-3.70M230.40,181.34h2.00M401.40,181.34h-2.00M230.40,244.68h2.00M401.40,244.68h-2.00M230.40,240.96h3.70M401.40,240.96h-3.70M230.40,237.24h2.00M401.40,237.24h-2.00M230.40,233.52h3.70M401.40,233.52h-3.70M230.40,229.80h2.00M401.40,229.80h-2.00M230.40,226.08h3.70M401.40,226.08h-3.70M230.40,222.36h2.00M401.40,222.36h-2.00M230.40,218.64h3.70M401.40,218.64h-3.70M230.40,214.92h2.00M401.40,214.92h-2.00M230.40,278.90h2.00M401.40,278.90h-2.00M230.40,273.90h3.70M401.40,273.90h-3.70M230.40,268.90h2.00M401.40,268.90h-2.00M230.40,263.90h3.70M401.40,263.90h-3.70M230.40,258.90h2.00M401.40,258.90h-2.00M230.40,253.90h3.70M401.40,253.90h-3.70M230.40,314.30h2.00M401.40,314.30h-2.00M230.40,309.30h3.70M401.40,309.30h-3.70M230.40,304.30h2.00M401.40,304.30h-2.00M230.40,299.30h3.70M401.40,299.30h-3.70M230.40,294.30h2.00M401.40,294.30h-2.00M230.40,289.30h3.70M401.40,289.30h-3.70" stroke="#262626" stroke-width="1.05" fill="none"/>
<path d="M231.00,213.00L239.10,213.00C239.52,211.93 240.77,208.08 241.60,206.60C242.43,205.12 242.93,205.48 244.10,204.10C245.27,202.72 247.22,198.78 248.60,198.30C249.98,197.82 251.35,200.80 252.40,201.20C253.45,201.60 253.43,201.67 254.90,200.70C256.37,199.73 259.48,194.75 261.20,195.40C262.92,196.05 263.98,203.72 265.20,204.60C266.42,205.48 267.45,201.75 268.50,200.70C269.55,199.65 270.50,198.43 271.50,198.30C272.50,198.17 273.38,199.22 274.50,199.90C275.62,200.58 277.03,202.87 278.20,202.40C279.37,201.93 280.40,197.52 281.50,197.10C282.60,196.68 283.75,199.30 284.80,199.90C285.85,200.50 286.75,200.08 287.80,200.70C288.85,201.32 290.07,204.00 291.10,203.60C292.13,203.20 293.03,200.08 294.00,198.30C294.97,196.52 295.80,192.68 296.90,192.90C298.00,193.12 299.43,197.60 300.60,199.60C301.77,201.60 302.85,202.67 303.90,204.90C304.95,207.13 306.40,211.65 306.90,213.00L336.00,213.00C336.45,212.97 337.62,212.90 338.70,212.80C339.78,212.70 341.47,212.87 342.50,212.40C343.53,211.93 344.27,210.52 344.90,210.00C345.53,209.48 345.83,209.25 346.30,209.30C346.77,209.35 347.15,210.55 347.70,210.30C348.25,210.05 349.05,208.48 349.60,207.80C350.15,207.12 350.45,206.55 351.00,206.20C351.55,205.85 352.27,205.90 352.90,205.70C353.53,205.50 354.17,205.63 354.80,205.00C355.43,204.37 356.10,202.92 356.70,201.90C357.30,200.88 357.92,199.22 358.40,198.90C358.88,198.58 359.17,199.02 359.60,200.00C360.03,200.98 360.53,203.22 361.00,204.80C361.47,206.38 361.88,208.17 362.40,209.50C362.92,210.83 363.58,212.22 364.10,212.80C364.62,213.38 365.27,212.97 365.50,213.00L392.85,213.00" fill="none" stroke="#262626" stroke-width="1.25" stroke-linejoin="round"/>
<path d="M231.00,248.20L240.00,248.20C241.67,248.13 246.67,247.80 250.00,247.80C253.33,247.80 251.67,248.13 260.00,248.20C268.33,248.27 292.50,248.20 300.00,248.20C307.50,248.20 304.17,248.20 305.00,248.20L392.85,248.20" fill="none" stroke="#262626" stroke-width="1.25" stroke-linejoin="round"/>
<path d="M231.00,248.20L245.00,248.20C247.17,248.07 254.67,247.48 258.00,247.40C261.33,247.32 258.00,247.62 265.00,247.70C272.00,247.78 293.17,247.82 300.00,247.90C306.83,247.98 305.00,248.15 306.00,248.20L392.85,248.20" fill="none" stroke="#ff3434" stroke-width="1.25" stroke-linejoin="round"/>
<path d="M231.00,248.20L239.10,248.20C239.52,247.27 240.62,243.82 241.60,242.60C242.58,241.38 243.75,241.97 245.00,240.90C246.25,239.83 247.72,236.20 249.10,236.20C250.48,236.20 252.05,239.98 253.30,240.90C254.55,241.82 255.37,241.15 256.60,241.70C257.83,242.25 259.32,243.45 260.70,244.20C262.08,244.95 263.37,246.20 264.90,246.20C266.43,246.20 268.38,244.38 269.90,244.20C271.42,244.02 272.62,244.73 274.00,245.10C275.38,245.47 276.67,246.22 278.20,246.40C279.73,246.58 281.27,246.10 283.20,246.20C285.13,246.30 287.60,246.87 289.80,247.00C292.00,247.13 294.18,246.85 296.40,247.00C298.62,247.15 301.50,247.70 303.10,247.90C304.70,248.10 305.52,248.15 306.00,248.20L336.00,248.20C336.30,248.18 336.87,248.32 337.80,248.10C338.73,247.88 340.65,247.33 341.60,246.90C342.55,246.47 342.87,245.98 343.50,245.50C344.13,245.02 344.77,244.00 345.40,244.00C346.03,244.00 346.67,245.57 347.30,245.50C347.93,245.43 348.60,244.12 349.20,243.60C349.80,243.08 350.28,242.43 350.90,242.40C351.52,242.37 352.28,243.40 352.90,243.40C353.52,243.40 353.97,244.10 354.60,242.40C355.23,240.70 356.07,235.72 356.70,233.20C357.33,230.68 357.88,227.93 358.40,227.30C358.92,226.67 359.37,227.80 359.80,229.40C360.23,231.00 360.57,234.47 361.00,236.90C361.43,239.33 361.88,242.13 362.40,244.00C362.92,245.87 363.58,247.40 364.10,248.10C364.62,248.80 365.27,248.18 365.50,248.20L392.85,248.20" fill="none" stroke="#38f038" stroke-width="1.25" stroke-linejoin="round"/>
<path d="M231.00,283.70L350.00,283.70C351.22,283.55 355.30,282.80 357.30,282.80C359.30,282.80 361.22,283.55 362.00,283.70L392.85,283.70" fill="none" stroke="#262626" stroke-width="1.25" stroke-linejoin="round"/>
<path d="M231.00,283.70L239.10,283.70C239.58,282.45 241.02,277.78 242.00,276.20C242.98,274.62 243.90,275.42 245.00,274.20C246.10,272.98 247.37,269.32 248.60,268.90C249.83,268.48 251.35,271.23 252.40,271.70C253.45,272.17 253.37,272.80 254.90,271.70C256.43,270.60 259.88,264.62 261.60,265.10C263.32,265.58 264.05,273.77 265.20,274.60C266.35,275.43 267.45,271.18 268.50,270.10C269.55,269.02 270.43,268.23 271.50,268.10C272.57,267.97 273.73,268.62 274.90,269.30C276.07,269.98 277.40,272.82 278.50,272.20C279.60,271.58 280.45,266.23 281.50,265.60C282.55,264.97 283.75,267.78 284.80,268.40C285.85,269.02 286.83,268.75 287.80,269.30C288.77,269.85 289.57,272.68 290.60,271.70C291.63,270.72 292.95,265.68 294.00,263.40C295.05,261.12 295.80,257.58 296.90,258.00C298.00,258.42 299.43,263.47 300.60,265.90C301.77,268.33 302.80,269.63 303.90,272.60C305.00,275.57 306.65,281.85 307.20,283.70L350.00,283.70C351.22,283.52 355.30,282.60 357.30,282.60C359.30,282.60 361.22,283.52 362.00,283.70L392.85,283.70" fill="none" stroke="#ff3434" stroke-width="1.25" stroke-linejoin="round"/>
<path d="M231.00,319.10L392.85,319.10" fill="none" stroke="#262626" stroke-width="1.25" stroke-linejoin="round"/>
<path d="M231.00,319.10L250.00,319.10C251.93,318.98 259.10,318.42 261.60,318.40C264.10,318.38 259.43,318.92 265.00,319.00C270.57,319.08 289.17,318.88 295.00,318.90C300.83,318.92 299.17,319.07 300.00,319.10L392.85,319.10" fill="none" stroke="#ff3434" stroke-width="1.25" stroke-linejoin="round"/>
<path d="M231.00,319.10L243.30,319.10C244.13,318.82 246.37,317.77 248.30,317.40C250.23,317.03 253.10,317.10 254.90,316.90C256.70,316.70 257.98,316.48 259.10,316.20C260.22,315.92 260.77,315.08 261.60,315.20C262.43,315.32 263.13,316.62 264.10,316.90C265.07,317.18 265.88,317.02 267.40,316.90C268.92,316.78 271.40,316.12 273.20,316.20C275.00,316.28 276.53,317.28 278.20,317.40C279.87,317.52 281.55,316.72 283.20,316.90C284.85,317.08 285.90,318.23 288.10,318.50C290.30,318.77 294.18,318.40 296.40,318.50C298.62,318.60 300.57,319.00 301.40,319.10L337.00,319.10C337.45,319.10 338.70,319.25 339.70,319.10C340.70,318.95 341.98,318.63 343.00,318.20C344.02,317.77 344.93,316.87 345.80,316.50C346.67,316.13 347.40,316.57 348.20,316.00C349.00,315.43 349.88,313.85 350.60,313.10C351.32,312.35 351.80,311.92 352.50,311.50C353.20,311.08 354.10,311.12 354.80,310.60C355.50,310.08 356.10,309.03 356.70,308.40C357.30,307.77 357.88,306.80 358.40,306.80C358.92,306.80 359.28,307.27 359.80,308.40C360.32,309.53 360.90,312.02 361.50,313.60C362.10,315.18 362.85,316.98 363.40,317.90C363.95,318.82 364.57,318.90 364.80,319.10L392.85,319.10" fill="none" stroke="#38f038" stroke-width="1.25" stroke-linejoin="round"/>
<text class="tl" font-size="7.60" text-anchor="end" transform="translate(226.70,215.75) scale(1.000,1.050)">0</text>
<text class="tl" font-size="7.60" text-anchor="end" transform="translate(226.70,208.67) scale(1.000,1.050)">10</text>
<text class="tl" font-size="7.60" text-anchor="end" transform="translate(226.70,201.59) scale(1.000,1.050)">20</text>
<text class="tl" font-size="7.60" text-anchor="end" transform="translate(226.70,194.51) scale(1.000,1.050)">30</text>
<text class="tl" font-size="7.60" text-anchor="end" transform="translate(226.70,187.43) scale(1.000,1.050)">40</text>
<text class="tl" font-size="7.60" text-anchor="end" transform="translate(226.70,180.35) scale(1.000,1.050)">50</text>
<text class="tl" font-size="7.60" text-anchor="end" transform="translate(226.70,250.95) scale(1.000,1.050)">0</text>
<text class="tl" font-size="7.60" text-anchor="end" transform="translate(226.70,243.51) scale(1.000,1.050)">2</text>
<text class="tl" font-size="7.60" text-anchor="end" transform="translate(226.70,236.07) scale(1.000,1.050)">4</text>
<text class="tl" font-size="7.60" text-anchor="end" transform="translate(226.70,228.63) scale(1.000,1.050)">6</text>
<text class="tl" font-size="7.60" text-anchor="end" transform="translate(226.70,221.19) scale(1.000,1.050)">8</text>
<text class="tl" font-size="7.60" text-anchor="end" transform="translate(226.70,286.45) scale(1.000,1.050)">0</text>
<text class="tl" font-size="7.60" text-anchor="end" transform="translate(226.70,276.45) scale(1.000,1.050)">10</text>
<text class="tl" font-size="7.60" text-anchor="end" transform="translate(226.70,266.45) scale(1.000,1.050)">20</text>
<text class="tl" font-size="7.60" text-anchor="end" transform="translate(226.70,256.45) scale(1.000,1.050)">30</text>
<text class="tl" font-size="7.60" text-anchor="end" transform="translate(226.70,321.85) scale(1.000,1.050)">0</text>
<text class="tl" font-size="7.60" text-anchor="end" transform="translate(226.70,311.85) scale(1.000,1.050)">10</text>
<text class="tl" font-size="7.60" text-anchor="end" transform="translate(226.70,301.85) scale(1.000,1.050)">20</text>
<text class="tl" font-size="7.60" text-anchor="end" transform="translate(226.70,291.85) scale(1.000,1.050)">30</text>
<text class="tl" font-size="7.80" text-anchor="middle" transform="translate(230.40,328.62) scale(1.000,0.930)">-10</text>
<text class="tl" font-size="7.80" text-anchor="middle" transform="translate(242.61,328.62) scale(1.000,0.930)">-9</text>
<text class="tl" font-size="7.80" text-anchor="middle" transform="translate(254.83,328.62) scale(1.000,0.930)">-8</text>
<text class="tl" font-size="7.80" text-anchor="middle" transform="translate(267.04,328.62) scale(1.000,0.930)">-7</text>
<text class="tl" font-size="7.80" text-anchor="middle" transform="translate(279.26,328.62) scale(1.000,0.930)">-6</text>
<text class="tl" font-size="7.80" text-anchor="middle" transform="translate(291.47,328.62) scale(1.000,0.930)">-5</text>
<text class="tl" font-size="7.80" text-anchor="middle" transform="translate(303.69,328.62) scale(1.000,0.930)">-4</text>
<text class="tl" font-size="7.80" text-anchor="middle" transform="translate(315.90,328.62) scale(1.000,0.930)">-3</text>
<text class="tl" font-size="7.80" text-anchor="middle" transform="translate(328.11,328.62) scale(1.000,0.930)">-2</text>
<text class="tl" font-size="7.80" text-anchor="middle" transform="translate(340.33,328.62) scale(1.000,0.930)">-1</text>
<text class="tl" font-size="7.80" text-anchor="middle" transform="translate(352.54,328.62) scale(1.000,0.930)">0</text>
<text class="tl" font-size="7.80" text-anchor="middle" transform="translate(364.76,328.62) scale(1.000,0.930)">1</text>
<text class="tl" font-size="7.80" text-anchor="middle" transform="translate(376.97,328.62) scale(1.000,0.930)">2</text>
<text class="tl" font-size="7.80" text-anchor="middle" transform="translate(389.19,328.62) scale(1.000,0.930)">3</text>
<text class="tl" font-size="7.80" text-anchor="middle" transform="translate(401.40,328.62) scale(1.000,0.930)">4</text>
<text class="tl" font-size="7.80" text-anchor="middle" transform="translate(315.90,335.60) scale(1.000,0.920)">Energy (eV)</text>
<text class="tl" font-size="7.17" text-anchor="middle" transform="translate(214.20,249.40) rotate(-90) scale(1,1.180)">Density of states (electrons/eV)</text>
<text class="pb" font-size="15.20" transform="translate(236.53,192.40) scale(1.100,1.000)">(e)</text>
<line x1="352.90" y1="184.35" x2="371.20" y2="184.35" stroke="#262626" stroke-width="1.3"/>
<text x="373.10" y="187.15" class="lg" font-size="7.50">TDOS</text>
<line x1="300.50" y1="219.35" x2="319.00" y2="219.35" stroke="#262626" stroke-width="1.3"/>
<text class="lg" font-size="7.50" transform="translate(320.30,222.15) scale(1.030,1.000)">Nb 5s</text>
<line x1="300.50" y1="227.95" x2="319.00" y2="227.95" stroke="#ff3434" stroke-width="1.3"/>
<text class="lg" font-size="7.50" transform="translate(320.30,230.75) scale(1.030,1.000)">Nb 4p</text>
<line x1="300.50" y1="236.55" x2="319.00" y2="236.55" stroke="#38f038" stroke-width="1.3"/>
<text class="lg" font-size="7.50" transform="translate(320.30,239.35) scale(1.030,1.000)">Nb 4d</text>
<line x1="356.70" y1="252.85" x2="374.60" y2="252.85" stroke="#262626" stroke-width="1.3"/>
<text class="lg" font-size="7.50" transform="translate(376.10,255.65) scale(1.070,1.000)">O 2s</text>
<line x1="356.70" y1="261.65" x2="374.60" y2="261.65" stroke="#ff3434" stroke-width="1.3"/>
<text class="lg" font-size="7.50" transform="translate(376.10,264.45) scale(1.070,1.000)">O 2p</text>
<line x1="361.20" y1="288.65" x2="380.00" y2="288.65" stroke="#262626" stroke-width="1.3"/>
<text class="lg" font-size="7.50" transform="translate(381.80,291.45) scale(1.120,1.000)">Ti 4s</text>
<line x1="361.20" y1="297.25" x2="380.00" y2="297.25" stroke="#ff3434" stroke-width="1.3"/>
<text class="lg" font-size="7.50" transform="translate(381.80,300.05) scale(1.120,1.000)">Ti 3p</text>
<line x1="361.20" y1="306.05" x2="380.00" y2="306.05" stroke="#38f038" stroke-width="1.3"/>
<text class="lg" font-size="7.50" transform="translate(381.80,308.85) scale(1.120,1.000)">Ti 3d</text>
<line x1="551.97" y1="178.00" x2="551.97" y2="318.60" stroke="#ff8080" stroke-width="1.0" stroke-dasharray="1.4,1.1"/>
<rect x="432.40" y="178.00" width="167.40" height="140.60" fill="none" stroke="#262626" stroke-width="1.20"/>
<line x1="432.40" y1="213.20" x2="599.80" y2="213.20" stroke="#262626" stroke-width="1.20"/>
<line x1="432.40" y1="248.40" x2="599.80" y2="248.40" stroke="#262626" stroke-width="1.20"/>
<line x1="432.40" y1="283.30" x2="599.80" y2="283.30" stroke="#262626" stroke-width="1.20"/>
<path d="M438.38,178.00v2.00M438.38,213.20v-2.00M438.38,248.40v-2.00M438.38,283.30v-2.00M438.38,318.60v-2.00M444.36,178.00v3.70M444.36,213.20v-3.70M444.36,248.40v-3.70M444.36,283.30v-3.70M444.36,318.60v-3.70M450.34,178.00v2.00M450.34,213.20v-2.00M450.34,248.40v-2.00M450.34,283.30v-2.00M450.34,318.60v-2.00M456.31,178.00v3.70M456.31,213.20v-3.70M456.31,248.40v-3.70M456.31,283.30v-3.70M456.31,318.60v-3.70M462.29,178.00v2.00M462.29,213.20v-2.00M462.29,248.40v-2.00M462.29,283.30v-2.00M462.29,318.60v-2.00M468.27,178.00v3.70M468.27,213.20v-3.70M468.27,248.40v-3.70M468.27,283.30v-3.70M468.27,318.60v-3.70M474.25,178.00v2.00M474.25,213.20v-2.00M474.25,248.40v-2.00M474.25,283.30v-2.00M474.25,318.60v-2.00M480.23,178.00v3.70M480.23,213.20v-3.70M480.23,248.40v-3.70M480.23,283.30v-3.70M480.23,318.60v-3.70M486.21,178.00v2.00M486.21,213.20v-2.00M486.21,248.40v-2.00M486.21,283.30v-2.00M486.21,318.60v-2.00M492.19,178.00v3.70M492.19,213.20v-3.70M492.19,248.40v-3.70M492.19,283.30v-3.70M492.19,318.60v-3.70M498.16,178.00v2.00M498.16,213.20v-2.00M498.16,248.40v-2.00M498.16,283.30v-2.00M498.16,318.60v-2.00M504.14,178.00v3.70M504.14,213.20v-3.70M504.14,248.40v-3.70M504.14,283.30v-3.70M504.14,318.60v-3.70M510.12,178.00v2.00M510.12,213.20v-2.00M510.12,248.40v-2.00M510.12,283.30v-2.00M510.12,318.60v-2.00M516.10,178.00v3.70M516.10,213.20v-3.70M516.10,248.40v-3.70M516.10,283.30v-3.70M516.10,318.60v-3.70M522.08,178.00v2.00M522.08,213.20v-2.00M522.08,248.40v-2.00M522.08,283.30v-2.00M522.08,318.60v-2.00M528.06,178.00v3.70M528.06,213.20v-3.70M528.06,248.40v-3.70M528.06,283.30v-3.70M528.06,318.60v-3.70M534.04,178.00v2.00M534.04,213.20v-2.00M534.04,248.40v-2.00M534.04,283.30v-2.00M534.04,318.60v-2.00M540.01,178.00v3.70M540.01,213.20v-3.70M540.01,248.40v-3.70M540.01,283.30v-3.70M540.01,318.60v-3.70M545.99,178.00v2.00M545.99,213.20v-2.00M545.99,248.40v-2.00M545.99,283.30v-2.00M545.99,318.60v-2.00M551.97,178.00v3.70M551.97,213.20v-3.70M551.97,248.40v-3.70M551.97,283.30v-3.70M551.97,318.60v-3.70M557.95,178.00v2.00M557.95,213.20v-2.00M557.95,248.40v-2.00M557.95,283.30v-2.00M557.95,318.60v-2.00M563.93,178.00v3.70M563.93,213.20v-3.70M563.93,248.40v-3.70M563.93,283.30v-3.70M563.93,318.60v-3.70M569.91,178.00v2.00M569.91,213.20v-2.00M569.91,248.40v-2.00M569.91,283.30v-2.00M569.91,318.60v-2.00M575.89,178.00v3.70M575.89,213.20v-3.70M575.89,248.40v-3.70M575.89,283.30v-3.70M575.89,318.60v-3.70M581.86,178.00v2.00M581.86,213.20v-2.00M581.86,248.40v-2.00M581.86,283.30v-2.00M581.86,318.60v-2.00M587.84,178.00v3.70M587.84,213.20v-3.70M587.84,248.40v-3.70M587.84,283.30v-3.70M587.84,318.60v-3.70M593.82,178.00v2.00M593.82,213.20v-2.00M593.82,248.40v-2.00M593.82,283.30v-2.00M593.82,318.60v-2.00M432.40,209.68h2.00M599.80,209.68h-2.00M432.40,206.16h3.70M599.80,206.16h-3.70M432.40,202.64h2.00M599.80,202.64h-2.00M432.40,199.12h3.70M599.80,199.12h-3.70M432.40,195.60h2.00M599.80,195.60h-2.00M432.40,192.08h3.70M599.80,192.08h-3.70M432.40,188.56h2.00M599.80,188.56h-2.00M432.40,185.04h3.70M599.80,185.04h-3.70M432.40,181.52h2.00M599.80,181.52h-2.00M432.40,244.68h2.00M599.80,244.68h-2.00M432.40,240.96h3.70M599.80,240.96h-3.70M432.40,237.24h2.00M599.80,237.24h-2.00M432.40,233.52h3.70M599.80,233.52h-3.70M432.40,229.80h2.00M599.80,229.80h-2.00M432.40,226.08h3.70M599.80,226.08h-3.70M432.40,222.36h2.00M599.80,222.36h-2.00M432.40,218.64h3.70M599.80,218.64h-3.70M432.40,214.92h2.00M599.80,214.92h-2.00M432.40,278.30h2.00M599.80,278.30h-2.00M432.40,273.30h3.70M599.80,273.30h-3.70M432.40,268.30h2.00M599.80,268.30h-2.00M432.40,263.30h3.70M599.80,263.30h-3.70M432.40,258.30h2.00M599.80,258.30h-2.00M432.40,253.30h3.70M599.80,253.30h-3.70M432.40,313.60h2.00M599.80,313.60h-2.00M432.40,308.60h3.70M599.80,308.60h-3.70M432.40,303.60h2.00M599.80,303.60h-2.00M432.40,298.60h3.70M599.80,298.60h-3.70M432.40,293.60h2.00M599.80,293.60h-2.00M432.40,288.60h3.70M599.80,288.60h-3.70" stroke="#262626" stroke-width="1.05" fill="none"/>
<path d="M433.00,213.00L435.70,213.00C436.13,212.15 437.53,208.28 438.30,207.90C439.07,207.52 439.42,211.48 440.30,210.70C441.18,209.92 442.48,204.78 443.60,203.20C444.72,201.62 445.95,201.20 447.00,201.20C448.05,201.20 448.80,203.28 449.90,203.20C451.00,203.12 452.30,201.25 453.60,200.70C454.90,200.15 456.45,199.75 457.70,199.90C458.95,200.05 459.85,201.38 461.10,201.60C462.35,201.82 463.97,201.62 465.20,201.20C466.43,200.78 467.38,199.32 468.50,199.10C469.62,198.88 470.83,199.55 471.90,199.90C472.97,200.25 473.80,201.42 474.90,201.20C476.00,200.98 477.35,198.60 478.50,198.60C479.65,198.60 480.68,201.25 481.80,201.20C482.92,201.15 484.08,198.18 485.20,198.30C486.32,198.42 487.12,202.13 488.50,201.90C489.88,201.67 492.12,197.28 493.50,196.90C494.88,196.52 495.65,198.60 496.80,199.60C497.95,200.60 499.35,202.77 500.40,202.90C501.45,203.03 502.32,200.12 503.10,200.40C503.88,200.68 504.35,202.50 505.10,204.60C505.85,206.70 507.18,211.60 507.60,213.00L532.00,213.00C532.30,212.98 532.72,212.97 533.80,212.90C534.88,212.83 537.40,213.00 538.50,212.60C539.60,212.20 539.85,210.93 540.40,210.50C540.95,210.07 541.25,209.97 541.80,210.00C542.35,210.03 543.07,211.02 543.70,210.70C544.33,210.38 544.97,208.80 545.60,208.10C546.23,207.40 546.78,206.45 547.50,206.50C548.22,206.55 549.10,208.28 549.90,208.40C550.70,208.52 551.52,207.57 552.30,207.20C553.08,206.83 553.73,207.00 554.60,206.20C555.47,205.40 556.67,203.30 557.50,202.40C558.33,201.50 558.97,200.80 559.60,200.80C560.23,200.80 560.78,201.42 561.30,202.40C561.82,203.38 562.23,205.20 562.70,206.70C563.17,208.20 563.70,210.35 564.10,211.40C564.50,212.45 564.93,212.73 565.10,213.00L594.66,213.00" fill="none" stroke="#262626" stroke-width="1.25" stroke-linejoin="round"/>
<path d="M433.00,248.20L440.00,248.20C441.67,248.13 445.00,247.83 450.00,247.80C455.00,247.77 463.33,248.00 470.00,248.00C476.67,248.00 484.17,247.77 490.00,247.80C495.83,247.83 502.50,248.13 505.00,248.20L594.66,248.20" fill="none" stroke="#262626" stroke-width="1.25" stroke-linejoin="round"/>
<path d="M433.00,248.20L440.00,248.20C441.67,248.07 445.00,247.50 450.00,247.40C455.00,247.30 463.33,247.60 470.00,247.60C476.67,247.60 484.17,247.30 490.00,247.40C495.83,247.50 502.50,248.07 505.00,248.20L594.66,248.20" fill="none" stroke="#ff3434" stroke-width="1.25" stroke-linejoin="round"/>
<path d="M433.00,248.20L435.70,248.20C436.13,247.20 437.48,242.63 438.30,242.20C439.12,241.77 439.72,246.37 440.60,245.60C441.48,244.83 442.40,239.35 443.60,237.60C444.80,235.85 446.63,235.10 447.80,235.10C448.97,235.10 449.68,237.33 450.60,237.60C451.52,237.87 452.25,236.48 453.30,236.70C454.35,236.92 455.60,238.07 456.90,238.90C458.20,239.73 459.72,240.87 461.10,241.70C462.48,242.53 463.68,243.53 465.20,243.90C466.72,244.27 468.53,243.90 470.20,243.90C471.87,243.90 473.53,243.65 475.20,243.90C476.87,244.15 478.53,245.02 480.20,245.40C481.87,245.78 483.27,246.03 485.20,246.20C487.13,246.37 489.60,246.18 491.80,246.40C494.00,246.62 496.18,247.20 498.40,247.50C500.62,247.80 503.98,248.08 505.10,248.20L531.00,248.20C531.40,248.15 532.25,248.22 533.40,247.90C534.55,247.58 536.78,246.70 537.90,246.30C539.02,245.90 539.45,246.17 540.10,245.50C540.75,244.83 541.20,242.63 541.80,242.30C542.40,241.97 542.85,244.15 543.70,243.50C544.55,242.85 545.90,238.68 546.90,238.40C547.90,238.12 548.87,242.17 549.70,241.80C550.53,241.43 551.15,237.52 551.90,236.20C552.65,234.88 553.45,235.50 554.20,233.90C554.95,232.30 555.75,229.22 556.40,226.60C557.05,223.98 557.60,220.27 558.10,218.20C558.60,216.13 558.93,214.48 559.40,214.20C559.87,213.92 560.37,214.25 560.90,216.50C561.43,218.75 562.03,223.20 562.60,227.70C563.17,232.20 563.83,240.12 564.30,243.50C564.77,246.88 564.95,247.22 565.40,248.00C565.85,248.78 566.73,248.17 567.00,248.20L594.66,248.20" fill="none" stroke="#38f038" stroke-width="1.25" stroke-linejoin="round"/>
<path d="M433.00,283.10L594.66,283.10" fill="none" stroke="#262626" stroke-width="1.25" stroke-linejoin="round"/>
<path d="M433.00,283.10L436.20,283.10C436.55,282.32 437.57,278.77 438.30,278.40C439.03,278.03 439.72,281.73 440.60,280.90C441.48,280.07 442.48,274.93 443.60,273.40C444.72,271.87 446.25,271.70 447.30,271.70C448.35,271.70 448.85,273.53 449.90,273.40C450.95,273.27 452.30,271.50 453.60,270.90C454.90,270.30 456.45,269.72 457.70,269.80C458.95,269.88 459.98,271.17 461.10,271.40C462.22,271.63 463.22,271.70 464.40,271.20C465.58,270.70 467.10,268.78 468.20,268.40C469.30,268.02 470.05,268.53 471.00,268.90C471.95,269.27 472.70,270.87 473.90,270.60C475.10,270.33 476.73,267.43 478.20,267.30C479.67,267.17 481.48,269.97 482.70,269.80C483.92,269.63 484.53,266.38 485.50,266.30C486.47,266.22 487.17,269.83 488.50,269.30C489.83,268.77 492.12,263.67 493.50,263.10C494.88,262.53 495.70,264.73 496.80,265.90C497.90,267.07 499.05,269.95 500.10,270.10C501.15,270.25 502.27,266.67 503.10,266.80C503.93,266.93 504.27,268.18 505.10,270.90C505.93,273.62 507.60,281.07 508.10,283.10L542.00,283.10C543.33,283.03 547.40,282.88 550.00,282.70C552.60,282.52 555.43,281.93 557.60,282.00C559.77,282.07 562.10,282.92 563.00,283.10L594.66,283.10" fill="none" stroke="#ff3434" stroke-width="1.25" stroke-linejoin="round"/>
<path d="M433.00,318.40L594.66,318.40" fill="none" stroke="#262626" stroke-width="1.25" stroke-linejoin="round"/>
<path d="M433.00,318.40L450.00,318.40C453.33,318.32 463.33,317.95 470.00,317.90C476.67,317.85 485.00,318.02 490.00,318.10C495.00,318.18 498.33,318.35 500.00,318.40L594.66,318.40" fill="none" stroke="#ff3434" stroke-width="1.25" stroke-linejoin="round"/>
<path d="M433.00,318.40L445.00,318.40C447.00,318.20 453.08,317.60 457.00,317.20C460.92,316.80 465.67,316.07 468.50,316.00C471.33,315.93 472.20,316.85 474.00,316.80C475.80,316.75 476.97,315.63 479.30,315.70C481.63,315.77 484.55,316.75 488.00,317.20C491.45,317.65 498.00,318.20 500.00,318.40L533.00,318.40C533.45,318.38 534.47,318.47 535.70,318.30C536.93,318.13 539.07,317.78 540.40,317.40C541.73,317.02 542.83,316.48 543.70,316.00C544.57,315.52 544.97,314.93 545.60,314.50C546.23,314.07 546.78,313.40 547.50,313.40C548.22,313.40 549.03,314.28 549.90,314.50C550.77,314.72 551.75,314.77 552.70,314.70C553.65,314.63 554.65,314.42 555.60,314.10C556.55,313.78 557.62,312.80 558.40,312.80C559.18,312.80 559.67,313.42 560.30,314.10C560.93,314.78 561.65,316.20 562.20,316.90C562.75,317.60 563.13,318.05 563.60,318.30C564.07,318.55 564.77,318.38 565.00,318.40L594.66,318.40" fill="none" stroke="#38f038" stroke-width="1.25" stroke-linejoin="round"/>
<text class="tl" font-size="7.60" text-anchor="end" transform="translate(428.70,215.75) scale(1.000,1.050)">0</text>
<text class="tl" font-size="7.60" text-anchor="end" transform="translate(428.70,208.71) scale(1.000,1.050)">10</text>
<text class="tl" font-size="7.60" text-anchor="end" transform="translate(428.70,201.67) scale(1.000,1.050)">20</text>
<text class="tl" font-size="7.60" text-anchor="end" transform="translate(428.70,194.63) scale(1.000,1.050)">30</text>
<text class="tl" font-size="7.60" text-anchor="end" transform="translate(428.70,187.59) scale(1.000,1.050)">40</text>
<text class="tl" font-size="7.60" text-anchor="end" transform="translate(428.70,180.55) scale(1.000,1.050)">50</text>
<text class="tl" font-size="7.60" text-anchor="end" transform="translate(428.70,250.95) scale(1.000,1.050)">0</text>
<text class="tl" font-size="7.60" text-anchor="end" transform="translate(428.70,243.51) scale(1.000,1.050)">2</text>
<text class="tl" font-size="7.60" text-anchor="end" transform="translate(428.70,236.07) scale(1.000,1.050)">4</text>
<text class="tl" font-size="7.60" text-anchor="end" transform="translate(428.70,228.63) scale(1.000,1.050)">6</text>
<text class="tl" font-size="7.60" text-anchor="end" transform="translate(428.70,221.19) scale(1.000,1.050)">8</text>
<text class="tl" font-size="7.60" text-anchor="end" transform="translate(428.70,285.85) scale(1.000,1.050)">0</text>
<text class="tl" font-size="7.60" text-anchor="end" transform="translate(428.70,275.85) scale(1.000,1.050)">10</text>
<text class="tl" font-size="7.60" text-anchor="end" transform="translate(428.70,265.85) scale(1.000,1.050)">20</text>
<text class="tl" font-size="7.60" text-anchor="end" transform="translate(428.70,255.85) scale(1.000,1.050)">30</text>
<text class="tl" font-size="7.60" text-anchor="end" transform="translate(428.70,321.15) scale(1.000,1.050)">0</text>
<text class="tl" font-size="7.60" text-anchor="end" transform="translate(428.70,311.15) scale(1.000,1.050)">10</text>
<text class="tl" font-size="7.60" text-anchor="end" transform="translate(428.70,301.15) scale(1.000,1.050)">20</text>
<text class="tl" font-size="7.60" text-anchor="end" transform="translate(428.70,291.15) scale(1.000,1.050)">30</text>
<text class="tl" font-size="7.80" text-anchor="middle" transform="translate(432.40,327.92) scale(1.000,0.930)">-10</text>
<text class="tl" font-size="7.80" text-anchor="middle" transform="translate(444.36,327.92) scale(1.000,0.930)">-9</text>
<text class="tl" font-size="7.80" text-anchor="middle" transform="translate(456.31,327.92) scale(1.000,0.930)">-8</text>
<text class="tl" font-size="7.80" text-anchor="middle" transform="translate(468.27,327.92) scale(1.000,0.930)">-7</text>
<text class="tl" font-size="7.80" text-anchor="middle" transform="translate(480.23,327.92) scale(1.000,0.930)">-6</text>
<text class="tl" font-size="7.80" text-anchor="middle" transform="translate(492.19,327.92) scale(1.000,0.930)">-5</text>
<text class="tl" font-size="7.80" text-anchor="middle" transform="translate(504.14,327.92) scale(1.000,0.930)">-4</text>
<text class="tl" font-size="7.80" text-anchor="middle" transform="translate(516.10,327.92) scale(1.000,0.930)">-3</text>
<text class="tl" font-size="7.80" text-anchor="middle" transform="translate(528.06,327.92) scale(1.000,0.930)">-2</text>
<text class="tl" font-size="7.80" text-anchor="middle" transform="translate(540.01,327.92) scale(1.000,0.930)">-1</text>
<text class="tl" font-size="7.80" text-anchor="middle" transform="translate(551.97,327.92) scale(1.000,0.930)">0</text>
<text class="tl" font-size="7.80" text-anchor="middle" transform="translate(563.93,327.92) scale(1.000,0.930)">1</text>
<text class="tl" font-size="7.80" text-anchor="middle" transform="translate(575.89,327.92) scale(1.000,0.930)">2</text>
<text class="tl" font-size="7.80" text-anchor="middle" transform="translate(587.84,327.92) scale(1.000,0.930)">3</text>
<text class="tl" font-size="7.80" text-anchor="middle" transform="translate(599.80,327.92) scale(1.000,0.930)">4</text>
<text class="tl" font-size="7.80" text-anchor="middle" transform="translate(516.10,335.40) scale(1.000,0.920)">Energy (eV)</text>
<text class="tl" font-size="7.12" text-anchor="middle" transform="translate(416.10,249.55) rotate(-90) scale(1,1.180)">Density of states (electrons/eV)</text>
<text class="pn" font-size="15.20" transform="translate(439.23,193.40) scale(1.100,1.000)">(f)</text>
<line x1="552.60" y1="184.45" x2="570.70" y2="184.45" stroke="#262626" stroke-width="1.3"/>
<text x="573.40" y="187.25" class="lg" font-size="7.50">TDOS</text>
<line x1="500.80" y1="219.65" x2="519.10" y2="219.65" stroke="#262626" stroke-width="1.3"/>
<text class="lg" font-size="7.50" transform="translate(521.10,222.45) scale(1.030,1.000)">Nb 5s</text>
<line x1="500.80" y1="227.95" x2="519.10" y2="227.95" stroke="#ff3434" stroke-width="1.3"/>
<text class="lg" font-size="7.50" transform="translate(521.10,230.75) scale(1.030,1.000)">Nb 4p</text>
<line x1="500.80" y1="236.75" x2="519.10" y2="236.75" stroke="#38f038" stroke-width="1.3"/>
<text class="lg" font-size="7.50" transform="translate(521.10,239.55) scale(1.030,1.000)">Nb 4d</text>
<line x1="556.20" y1="252.85" x2="574.40" y2="252.85" stroke="#262626" stroke-width="1.3"/>
<text class="lg" font-size="7.50" transform="translate(575.90,255.65) scale(1.070,1.000)">O 2s</text>
<line x1="556.20" y1="261.55" x2="574.40" y2="261.55" stroke="#ff3434" stroke-width="1.3"/>
<text class="lg" font-size="7.50" transform="translate(575.90,264.35) scale(1.070,1.000)">O 2p</text>
<line x1="560.90" y1="288.25" x2="579.30" y2="288.25" stroke="#262626" stroke-width="1.3"/>
<text class="lg" font-size="7.50" transform="translate(580.40,291.05) scale(1.120,1.000)">Ti 4s</text>
<line x1="560.90" y1="296.95" x2="579.30" y2="296.95" stroke="#ff3434" stroke-width="1.3"/>
<text class="lg" font-size="7.50" transform="translate(580.40,299.75) scale(1.120,1.000)">Ti 3p</text>
<line x1="560.90" y1="305.55" x2="579.30" y2="305.55" stroke="#38f038" stroke-width="1.3"/>
<text class="lg" font-size="7.50" transform="translate(580.40,308.35) scale(1.120,1.000)">Ti 3d</text>
</svg></body></html>
